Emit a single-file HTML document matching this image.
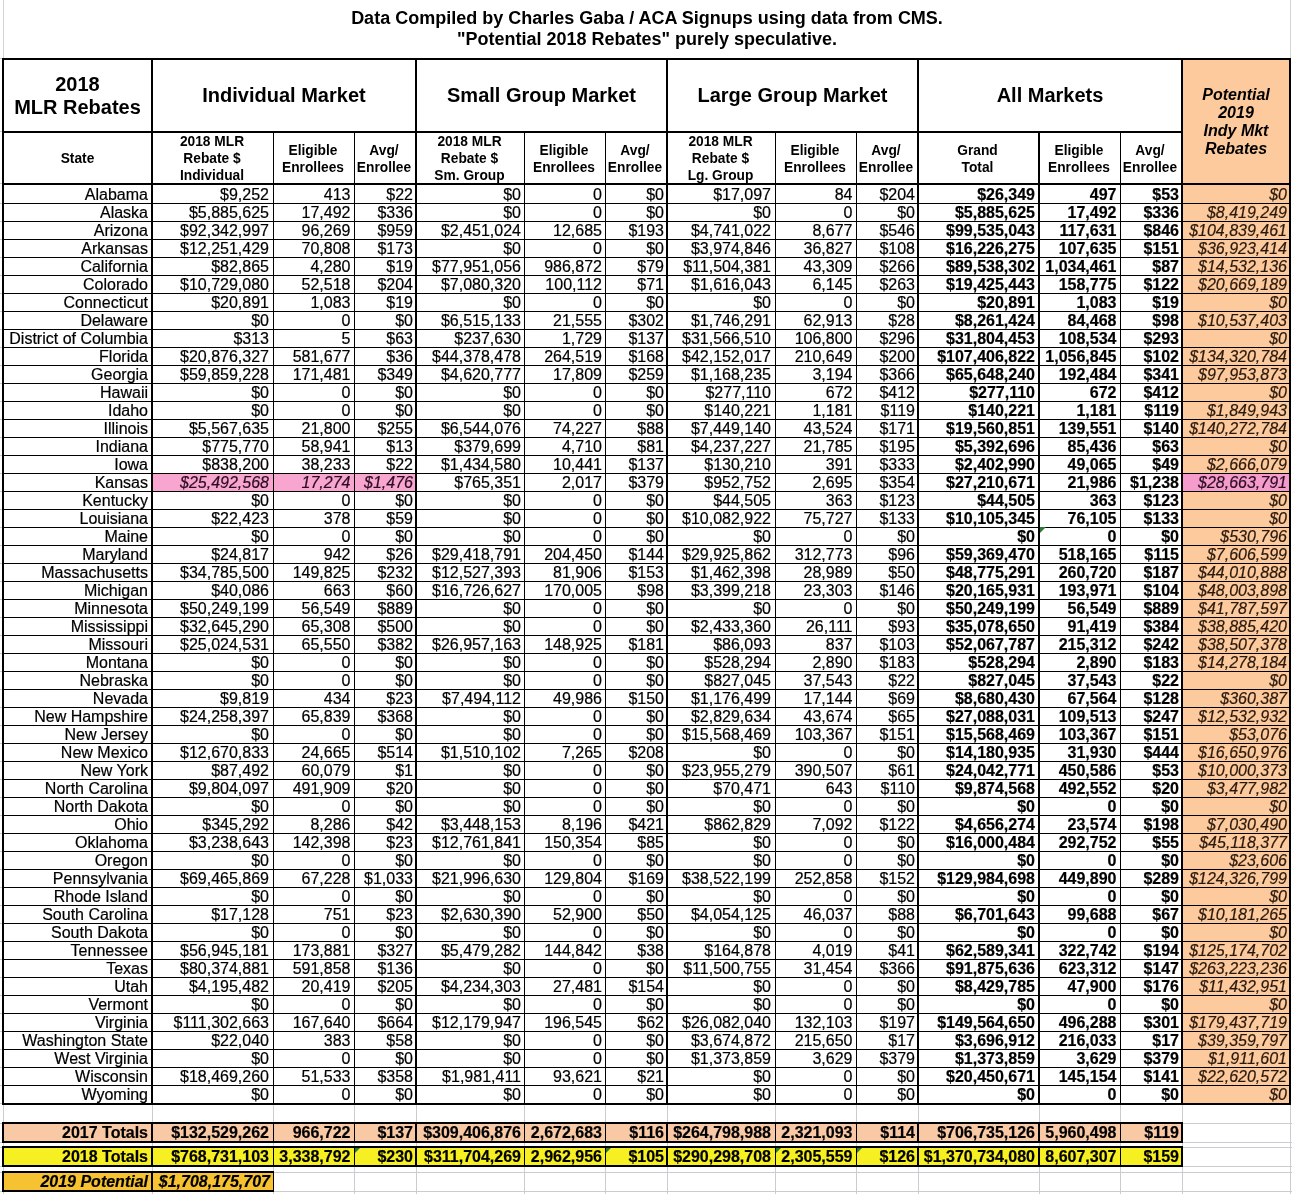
<!DOCTYPE html>
<html><head><meta charset="utf-8"><title>MLR Rebates</title>
<style>
html,body{margin:0;padding:0;background:#fff;}
body{width:1292px;height:1194px;position:relative;overflow:hidden;will-change:transform;font-family:"Liberation Sans", Arial, Helvetica, sans-serif;color:#000;}
.r{position:absolute;}
.tri{position:absolute;width:0;height:0;}
.t{position:absolute;white-space:nowrap;font-size:16px;line-height:17px;box-sizing:border-box;-webkit-text-stroke:0.2px currentColor;}
.b{font-weight:bold;}
.i{font-style:italic;}
.pc{color:#2a180b;}
.kc{color:#2b0d22;}
.title{position:absolute;text-align:center;font-weight:bold;font-size:18px;line-height:21px;}
.hc{position:absolute;display:flex;align-items:center;justify-content:center;text-align:center;font-weight:bold;}
.h1{font-size:20px;line-height:23px;}
.h2{font-size:13.75px;line-height:17px;}
.pot{position:absolute;text-align:center;font-weight:bold;font-style:italic;font-size:16px;line-height:18px;}
</style></head><body>
<div class="r" style="left:1183px;top:60px;width:106px;height:1043px;background:#fcca9c"></div>
<div class="r" style="left:153px;top:474px;width:120px;height:17px;background:#f8a5cf"></div>
<div class="r" style="left:274px;top:474px;width:80px;height:17px;background:#f8a5cf"></div>
<div class="r" style="left:355px;top:474px;width:60px;height:17px;background:#f8a5cf"></div>
<div class="r" style="left:1183px;top:474px;width:106px;height:17px;background:#f59ccc"></div>
<div class="r" style="left:3px;top:0px;width:1px;height:58px;background:#d4d4d4"></div>
<div class="r" style="left:1290px;top:0px;width:1px;height:58px;background:#d4d4d4"></div>
<div class="title" style="left:0;top:8px;width:1294px">Data Compiled by Charles Gaba / ACA Signups using data from CMS.<br>"Potential 2018 Rebates" purely speculative.</div>
<div class="r" style="left:2px;top:58px;width:1289px;height:2px;background:#000"></div>
<div class="r" style="left:2px;top:131px;width:1179px;height:2px;background:#000"></div>
<div class="r" style="left:2px;top:183px;width:1289px;height:2px;background:#000"></div>
<div class="r" style="left:2px;top:203px;width:1289px;height:1px;background:#000"></div>
<div class="r" style="left:2px;top:221px;width:1289px;height:1px;background:#000"></div>
<div class="r" style="left:2px;top:239px;width:1289px;height:1px;background:#000"></div>
<div class="r" style="left:2px;top:257px;width:1289px;height:1px;background:#000"></div>
<div class="r" style="left:2px;top:275px;width:1289px;height:1px;background:#000"></div>
<div class="r" style="left:2px;top:293px;width:1289px;height:1px;background:#000"></div>
<div class="r" style="left:2px;top:311px;width:1289px;height:1px;background:#000"></div>
<div class="r" style="left:2px;top:329px;width:1289px;height:1px;background:#000"></div>
<div class="r" style="left:2px;top:347px;width:1289px;height:1px;background:#000"></div>
<div class="r" style="left:2px;top:365px;width:1289px;height:1px;background:#000"></div>
<div class="r" style="left:2px;top:383px;width:1289px;height:1px;background:#000"></div>
<div class="r" style="left:2px;top:401px;width:1289px;height:1px;background:#000"></div>
<div class="r" style="left:2px;top:419px;width:1289px;height:1px;background:#000"></div>
<div class="r" style="left:2px;top:437px;width:1289px;height:1px;background:#000"></div>
<div class="r" style="left:2px;top:455px;width:1289px;height:1px;background:#000"></div>
<div class="r" style="left:2px;top:473px;width:1289px;height:1px;background:#000"></div>
<div class="r" style="left:2px;top:491px;width:1289px;height:1px;background:#000"></div>
<div class="r" style="left:2px;top:509px;width:1289px;height:1px;background:#000"></div>
<div class="r" style="left:2px;top:527px;width:1289px;height:1px;background:#000"></div>
<div class="r" style="left:2px;top:545px;width:1289px;height:1px;background:#000"></div>
<div class="r" style="left:2px;top:563px;width:1289px;height:1px;background:#000"></div>
<div class="r" style="left:2px;top:581px;width:1289px;height:1px;background:#000"></div>
<div class="r" style="left:2px;top:599px;width:1289px;height:1px;background:#000"></div>
<div class="r" style="left:2px;top:617px;width:1289px;height:1px;background:#000"></div>
<div class="r" style="left:2px;top:635px;width:1289px;height:1px;background:#000"></div>
<div class="r" style="left:2px;top:653px;width:1289px;height:1px;background:#000"></div>
<div class="r" style="left:2px;top:671px;width:1289px;height:1px;background:#000"></div>
<div class="r" style="left:2px;top:689px;width:1289px;height:1px;background:#000"></div>
<div class="r" style="left:2px;top:707px;width:1289px;height:1px;background:#000"></div>
<div class="r" style="left:2px;top:725px;width:1289px;height:1px;background:#000"></div>
<div class="r" style="left:2px;top:743px;width:1289px;height:1px;background:#000"></div>
<div class="r" style="left:2px;top:761px;width:1289px;height:1px;background:#000"></div>
<div class="r" style="left:2px;top:779px;width:1289px;height:1px;background:#000"></div>
<div class="r" style="left:2px;top:797px;width:1289px;height:1px;background:#000"></div>
<div class="r" style="left:2px;top:815px;width:1289px;height:1px;background:#000"></div>
<div class="r" style="left:2px;top:833px;width:1289px;height:1px;background:#000"></div>
<div class="r" style="left:2px;top:851px;width:1289px;height:1px;background:#000"></div>
<div class="r" style="left:2px;top:869px;width:1289px;height:1px;background:#000"></div>
<div class="r" style="left:2px;top:887px;width:1289px;height:1px;background:#000"></div>
<div class="r" style="left:2px;top:905px;width:1289px;height:1px;background:#000"></div>
<div class="r" style="left:2px;top:923px;width:1289px;height:1px;background:#000"></div>
<div class="r" style="left:2px;top:941px;width:1289px;height:1px;background:#000"></div>
<div class="r" style="left:2px;top:959px;width:1289px;height:1px;background:#000"></div>
<div class="r" style="left:2px;top:977px;width:1289px;height:1px;background:#000"></div>
<div class="r" style="left:2px;top:995px;width:1289px;height:1px;background:#000"></div>
<div class="r" style="left:2px;top:1013px;width:1289px;height:1px;background:#000"></div>
<div class="r" style="left:2px;top:1031px;width:1289px;height:1px;background:#000"></div>
<div class="r" style="left:2px;top:1049px;width:1289px;height:1px;background:#000"></div>
<div class="r" style="left:2px;top:1067px;width:1289px;height:1px;background:#000"></div>
<div class="r" style="left:2px;top:1085px;width:1289px;height:1px;background:#000"></div>
<div class="r" style="left:2px;top:1103px;width:1289px;height:2px;background:#000"></div>
<div class="r" style="left:2px;top:58px;width:2px;height:1047px;background:#000"></div>
<div class="r" style="left:151px;top:58px;width:2px;height:1047px;background:#000"></div>
<div class="r" style="left:273px;top:131px;width:1px;height:972px;background:#000"></div>
<div class="r" style="left:354px;top:131px;width:1px;height:972px;background:#000"></div>
<div class="r" style="left:415px;top:58px;width:2px;height:1047px;background:#000"></div>
<div class="r" style="left:524px;top:131px;width:1px;height:972px;background:#000"></div>
<div class="r" style="left:605px;top:131px;width:1px;height:972px;background:#000"></div>
<div class="r" style="left:666px;top:58px;width:2px;height:1047px;background:#000"></div>
<div class="r" style="left:775px;top:131px;width:1px;height:972px;background:#000"></div>
<div class="r" style="left:856px;top:131px;width:1px;height:972px;background:#000"></div>
<div class="r" style="left:917px;top:58px;width:2px;height:1047px;background:#000"></div>
<div class="r" style="left:1038px;top:131px;width:2px;height:972px;background:#000"></div>
<div class="r" style="left:1120px;top:131px;width:1px;height:972px;background:#000"></div>
<div class="r" style="left:1181px;top:58px;width:2px;height:1047px;background:#000"></div>
<div class="r" style="left:1289px;top:58px;width:2px;height:1047px;background:#000"></div>
<div class="hc h1" style="left:4px;top:60px;width:147px;height:71px"><div>2018<br>MLR Rebates</div></div>
<div class="hc h1" style="left:153px;top:60px;width:262px;height:71px"><div>Individual Market</div></div>
<div class="hc h1" style="left:417px;top:60px;width:249px;height:71px"><div>Small Group Market</div></div>
<div class="hc h1" style="left:668px;top:60px;width:249px;height:71px"><div>Large Group Market</div></div>
<div class="hc h1" style="left:919px;top:60px;width:262px;height:71px"><div>All Markets</div></div>
<div class="pot" style="left:1183px;top:86px;width:106px">Potential<br>2019<br>Indy Mkt<br>Rebates</div>
<div class="hc h2" style="left:4px;top:133px;width:147px;height:50px"><div>State</div></div>
<div class="hc h2" style="left:152px;top:133px;width:120px;height:50px"><div>2018 MLR<br>Rebate $<br>Individual</div></div>
<div class="hc h2" style="left:273px;top:134px;width:80px;height:50px"><div>Eligible<br>Enrollees</div></div>
<div class="hc h2" style="left:354px;top:134px;width:60px;height:50px"><div>Avg/<br>Enrollee</div></div>
<div class="hc h2" style="left:416px;top:133px;width:107px;height:50px"><div>2018 MLR<br>Rebate $<br>Sm. Group</div></div>
<div class="hc h2" style="left:524px;top:134px;width:80px;height:50px"><div>Eligible<br>Enrollees</div></div>
<div class="hc h2" style="left:605px;top:134px;width:60px;height:50px"><div>Avg/<br>Enrollee</div></div>
<div class="hc h2" style="left:667px;top:133px;width:107px;height:50px"><div>2018 MLR<br>Rebate $<br>Lg. Group</div></div>
<div class="hc h2" style="left:775px;top:134px;width:80px;height:50px"><div>Eligible<br>Enrollees</div></div>
<div class="hc h2" style="left:856px;top:134px;width:60px;height:50px"><div>Avg/<br>Enrollee</div></div>
<div class="hc h2" style="left:918px;top:134px;width:119px;height:50px"><div>Grand<br>Total</div></div>
<div class="hc h2" style="left:1039px;top:134px;width:80px;height:50px"><div>Eligible<br>Enrollees</div></div>
<div class="hc h2" style="left:1120px;top:134px;width:60px;height:50px"><div>Avg/<br>Enrollee</div></div>
<div class="t d" style="left:4px;top:186px;width:144px;height:17px;text-align:right;">Alabama</div>
<div class="t d" style="left:153px;top:186px;width:116px;height:17px;text-align:right;">$9,252</div>
<div class="t d" style="left:274px;top:186px;width:76.5px;height:17px;text-align:right;">413</div>
<div class="t d" style="left:355px;top:186px;width:58px;height:17px;text-align:right;">$22</div>
<div class="t d" style="left:417px;top:186px;width:104px;height:17px;text-align:right;">$0</div>
<div class="t d" style="left:525px;top:186px;width:77px;height:17px;text-align:right;">0</div>
<div class="t d" style="left:606px;top:186px;width:58px;height:17px;text-align:right;">$0</div>
<div class="t d" style="left:668px;top:186px;width:103px;height:17px;text-align:right;">$17,097</div>
<div class="t d" style="left:776px;top:186px;width:76.5px;height:17px;text-align:right;">84</div>
<div class="t d" style="left:857px;top:186px;width:58px;height:17px;text-align:right;">$204</div>
<div class="t d b" style="left:919px;top:186px;width:116px;height:17px;text-align:right;">$26,349</div>
<div class="t d b" style="left:1040px;top:186px;width:76.5px;height:17px;text-align:right;">497</div>
<div class="t d b" style="left:1121px;top:186px;width:58px;height:17px;text-align:right;">$53</div>
<div class="t d i pc" style="left:1183px;top:186px;width:104px;height:17px;text-align:right;">$0</div>
<div class="t d" style="left:4px;top:204px;width:144px;height:17px;text-align:right;">Alaska</div>
<div class="t d" style="left:153px;top:204px;width:116px;height:17px;text-align:right;">$5,885,625</div>
<div class="t d" style="left:274px;top:204px;width:76.5px;height:17px;text-align:right;">17,492</div>
<div class="t d" style="left:355px;top:204px;width:58px;height:17px;text-align:right;">$336</div>
<div class="t d" style="left:417px;top:204px;width:104px;height:17px;text-align:right;">$0</div>
<div class="t d" style="left:525px;top:204px;width:77px;height:17px;text-align:right;">0</div>
<div class="t d" style="left:606px;top:204px;width:58px;height:17px;text-align:right;">$0</div>
<div class="t d" style="left:668px;top:204px;width:103px;height:17px;text-align:right;">$0</div>
<div class="t d" style="left:776px;top:204px;width:76.5px;height:17px;text-align:right;">0</div>
<div class="t d" style="left:857px;top:204px;width:58px;height:17px;text-align:right;">$0</div>
<div class="t d b" style="left:919px;top:204px;width:116px;height:17px;text-align:right;">$5,885,625</div>
<div class="t d b" style="left:1040px;top:204px;width:76.5px;height:17px;text-align:right;">17,492</div>
<div class="t d b" style="left:1121px;top:204px;width:58px;height:17px;text-align:right;">$336</div>
<div class="t d i pc" style="left:1183px;top:204px;width:104px;height:17px;text-align:right;">$8,419,249</div>
<div class="t d" style="left:4px;top:222px;width:144px;height:17px;text-align:right;">Arizona</div>
<div class="t d" style="left:153px;top:222px;width:116px;height:17px;text-align:right;">$92,342,997</div>
<div class="t d" style="left:274px;top:222px;width:76.5px;height:17px;text-align:right;">96,269</div>
<div class="t d" style="left:355px;top:222px;width:58px;height:17px;text-align:right;">$959</div>
<div class="t d" style="left:417px;top:222px;width:104px;height:17px;text-align:right;">$2,451,024</div>
<div class="t d" style="left:525px;top:222px;width:77px;height:17px;text-align:right;">12,685</div>
<div class="t d" style="left:606px;top:222px;width:58px;height:17px;text-align:right;">$193</div>
<div class="t d" style="left:668px;top:222px;width:103px;height:17px;text-align:right;">$4,741,022</div>
<div class="t d" style="left:776px;top:222px;width:76.5px;height:17px;text-align:right;">8,677</div>
<div class="t d" style="left:857px;top:222px;width:58px;height:17px;text-align:right;">$546</div>
<div class="t d b" style="left:919px;top:222px;width:116px;height:17px;text-align:right;">$99,535,043</div>
<div class="t d b" style="left:1040px;top:222px;width:76.5px;height:17px;text-align:right;">117,631</div>
<div class="t d b" style="left:1121px;top:222px;width:58px;height:17px;text-align:right;">$846</div>
<div class="t d i pc" style="left:1183px;top:222px;width:104px;height:17px;text-align:right;">$104,839,461</div>
<div class="t d" style="left:4px;top:240px;width:144px;height:17px;text-align:right;">Arkansas</div>
<div class="t d" style="left:153px;top:240px;width:116px;height:17px;text-align:right;">$12,251,429</div>
<div class="t d" style="left:274px;top:240px;width:76.5px;height:17px;text-align:right;">70,808</div>
<div class="t d" style="left:355px;top:240px;width:58px;height:17px;text-align:right;">$173</div>
<div class="t d" style="left:417px;top:240px;width:104px;height:17px;text-align:right;">$0</div>
<div class="t d" style="left:525px;top:240px;width:77px;height:17px;text-align:right;">0</div>
<div class="t d" style="left:606px;top:240px;width:58px;height:17px;text-align:right;">$0</div>
<div class="t d" style="left:668px;top:240px;width:103px;height:17px;text-align:right;">$3,974,846</div>
<div class="t d" style="left:776px;top:240px;width:76.5px;height:17px;text-align:right;">36,827</div>
<div class="t d" style="left:857px;top:240px;width:58px;height:17px;text-align:right;">$108</div>
<div class="t d b" style="left:919px;top:240px;width:116px;height:17px;text-align:right;">$16,226,275</div>
<div class="t d b" style="left:1040px;top:240px;width:76.5px;height:17px;text-align:right;">107,635</div>
<div class="t d b" style="left:1121px;top:240px;width:58px;height:17px;text-align:right;">$151</div>
<div class="t d i pc" style="left:1183px;top:240px;width:104px;height:17px;text-align:right;">$36,923,414</div>
<div class="t d" style="left:4px;top:258px;width:144px;height:17px;text-align:right;">California</div>
<div class="t d" style="left:153px;top:258px;width:116px;height:17px;text-align:right;">$82,865</div>
<div class="t d" style="left:274px;top:258px;width:76.5px;height:17px;text-align:right;">4,280</div>
<div class="t d" style="left:355px;top:258px;width:58px;height:17px;text-align:right;">$19</div>
<div class="t d" style="left:417px;top:258px;width:104px;height:17px;text-align:right;">$77,951,056</div>
<div class="t d" style="left:525px;top:258px;width:77px;height:17px;text-align:right;">986,872</div>
<div class="t d" style="left:606px;top:258px;width:58px;height:17px;text-align:right;">$79</div>
<div class="t d" style="left:668px;top:258px;width:103px;height:17px;text-align:right;">$11,504,381</div>
<div class="t d" style="left:776px;top:258px;width:76.5px;height:17px;text-align:right;">43,309</div>
<div class="t d" style="left:857px;top:258px;width:58px;height:17px;text-align:right;">$266</div>
<div class="t d b" style="left:919px;top:258px;width:116px;height:17px;text-align:right;">$89,538,302</div>
<div class="t d b" style="left:1040px;top:258px;width:76.5px;height:17px;text-align:right;">1,034,461</div>
<div class="t d b" style="left:1121px;top:258px;width:58px;height:17px;text-align:right;">$87</div>
<div class="t d i pc" style="left:1183px;top:258px;width:104px;height:17px;text-align:right;">$14,532,136</div>
<div class="t d" style="left:4px;top:276px;width:144px;height:17px;text-align:right;">Colorado</div>
<div class="t d" style="left:153px;top:276px;width:116px;height:17px;text-align:right;">$10,729,080</div>
<div class="t d" style="left:274px;top:276px;width:76.5px;height:17px;text-align:right;">52,518</div>
<div class="t d" style="left:355px;top:276px;width:58px;height:17px;text-align:right;">$204</div>
<div class="t d" style="left:417px;top:276px;width:104px;height:17px;text-align:right;">$7,080,320</div>
<div class="t d" style="left:525px;top:276px;width:77px;height:17px;text-align:right;">100,112</div>
<div class="t d" style="left:606px;top:276px;width:58px;height:17px;text-align:right;">$71</div>
<div class="t d" style="left:668px;top:276px;width:103px;height:17px;text-align:right;">$1,616,043</div>
<div class="t d" style="left:776px;top:276px;width:76.5px;height:17px;text-align:right;">6,145</div>
<div class="t d" style="left:857px;top:276px;width:58px;height:17px;text-align:right;">$263</div>
<div class="t d b" style="left:919px;top:276px;width:116px;height:17px;text-align:right;">$19,425,443</div>
<div class="t d b" style="left:1040px;top:276px;width:76.5px;height:17px;text-align:right;">158,775</div>
<div class="t d b" style="left:1121px;top:276px;width:58px;height:17px;text-align:right;">$122</div>
<div class="t d i pc" style="left:1183px;top:276px;width:104px;height:17px;text-align:right;">$20,669,189</div>
<div class="t d" style="left:4px;top:294px;width:144px;height:17px;text-align:right;">Connecticut</div>
<div class="t d" style="left:153px;top:294px;width:116px;height:17px;text-align:right;">$20,891</div>
<div class="t d" style="left:274px;top:294px;width:76.5px;height:17px;text-align:right;">1,083</div>
<div class="t d" style="left:355px;top:294px;width:58px;height:17px;text-align:right;">$19</div>
<div class="t d" style="left:417px;top:294px;width:104px;height:17px;text-align:right;">$0</div>
<div class="t d" style="left:525px;top:294px;width:77px;height:17px;text-align:right;">0</div>
<div class="t d" style="left:606px;top:294px;width:58px;height:17px;text-align:right;">$0</div>
<div class="t d" style="left:668px;top:294px;width:103px;height:17px;text-align:right;">$0</div>
<div class="t d" style="left:776px;top:294px;width:76.5px;height:17px;text-align:right;">0</div>
<div class="t d" style="left:857px;top:294px;width:58px;height:17px;text-align:right;">$0</div>
<div class="t d b" style="left:919px;top:294px;width:116px;height:17px;text-align:right;">$20,891</div>
<div class="t d b" style="left:1040px;top:294px;width:76.5px;height:17px;text-align:right;">1,083</div>
<div class="t d b" style="left:1121px;top:294px;width:58px;height:17px;text-align:right;">$19</div>
<div class="t d i pc" style="left:1183px;top:294px;width:104px;height:17px;text-align:right;">$0</div>
<div class="t d" style="left:4px;top:312px;width:144px;height:17px;text-align:right;">Delaware</div>
<div class="t d" style="left:153px;top:312px;width:116px;height:17px;text-align:right;">$0</div>
<div class="t d" style="left:274px;top:312px;width:76.5px;height:17px;text-align:right;">0</div>
<div class="t d" style="left:355px;top:312px;width:58px;height:17px;text-align:right;">$0</div>
<div class="t d" style="left:417px;top:312px;width:104px;height:17px;text-align:right;">$6,515,133</div>
<div class="t d" style="left:525px;top:312px;width:77px;height:17px;text-align:right;">21,555</div>
<div class="t d" style="left:606px;top:312px;width:58px;height:17px;text-align:right;">$302</div>
<div class="t d" style="left:668px;top:312px;width:103px;height:17px;text-align:right;">$1,746,291</div>
<div class="t d" style="left:776px;top:312px;width:76.5px;height:17px;text-align:right;">62,913</div>
<div class="t d" style="left:857px;top:312px;width:58px;height:17px;text-align:right;">$28</div>
<div class="t d b" style="left:919px;top:312px;width:116px;height:17px;text-align:right;">$8,261,424</div>
<div class="t d b" style="left:1040px;top:312px;width:76.5px;height:17px;text-align:right;">84,468</div>
<div class="t d b" style="left:1121px;top:312px;width:58px;height:17px;text-align:right;">$98</div>
<div class="t d i pc" style="left:1183px;top:312px;width:104px;height:17px;text-align:right;">$10,537,403</div>
<div class="t d" style="left:4px;top:330px;width:144px;height:17px;text-align:right;">District of Columbia</div>
<div class="t d" style="left:153px;top:330px;width:116px;height:17px;text-align:right;">$313</div>
<div class="t d" style="left:274px;top:330px;width:76.5px;height:17px;text-align:right;">5</div>
<div class="t d" style="left:355px;top:330px;width:58px;height:17px;text-align:right;">$63</div>
<div class="t d" style="left:417px;top:330px;width:104px;height:17px;text-align:right;">$237,630</div>
<div class="t d" style="left:525px;top:330px;width:77px;height:17px;text-align:right;">1,729</div>
<div class="t d" style="left:606px;top:330px;width:58px;height:17px;text-align:right;">$137</div>
<div class="t d" style="left:668px;top:330px;width:103px;height:17px;text-align:right;">$31,566,510</div>
<div class="t d" style="left:776px;top:330px;width:76.5px;height:17px;text-align:right;">106,800</div>
<div class="t d" style="left:857px;top:330px;width:58px;height:17px;text-align:right;">$296</div>
<div class="t d b" style="left:919px;top:330px;width:116px;height:17px;text-align:right;">$31,804,453</div>
<div class="t d b" style="left:1040px;top:330px;width:76.5px;height:17px;text-align:right;">108,534</div>
<div class="t d b" style="left:1121px;top:330px;width:58px;height:17px;text-align:right;">$293</div>
<div class="t d i pc" style="left:1183px;top:330px;width:104px;height:17px;text-align:right;">$0</div>
<div class="t d" style="left:4px;top:348px;width:144px;height:17px;text-align:right;">Florida</div>
<div class="t d" style="left:153px;top:348px;width:116px;height:17px;text-align:right;">$20,876,327</div>
<div class="t d" style="left:274px;top:348px;width:76.5px;height:17px;text-align:right;">581,677</div>
<div class="t d" style="left:355px;top:348px;width:58px;height:17px;text-align:right;">$36</div>
<div class="t d" style="left:417px;top:348px;width:104px;height:17px;text-align:right;">$44,378,478</div>
<div class="t d" style="left:525px;top:348px;width:77px;height:17px;text-align:right;">264,519</div>
<div class="t d" style="left:606px;top:348px;width:58px;height:17px;text-align:right;">$168</div>
<div class="t d" style="left:668px;top:348px;width:103px;height:17px;text-align:right;">$42,152,017</div>
<div class="t d" style="left:776px;top:348px;width:76.5px;height:17px;text-align:right;">210,649</div>
<div class="t d" style="left:857px;top:348px;width:58px;height:17px;text-align:right;">$200</div>
<div class="t d b" style="left:919px;top:348px;width:116px;height:17px;text-align:right;">$107,406,822</div>
<div class="t d b" style="left:1040px;top:348px;width:76.5px;height:17px;text-align:right;">1,056,845</div>
<div class="t d b" style="left:1121px;top:348px;width:58px;height:17px;text-align:right;">$102</div>
<div class="t d i pc" style="left:1183px;top:348px;width:104px;height:17px;text-align:right;">$134,320,784</div>
<div class="t d" style="left:4px;top:366px;width:144px;height:17px;text-align:right;">Georgia</div>
<div class="t d" style="left:153px;top:366px;width:116px;height:17px;text-align:right;">$59,859,228</div>
<div class="t d" style="left:274px;top:366px;width:76.5px;height:17px;text-align:right;">171,481</div>
<div class="t d" style="left:355px;top:366px;width:58px;height:17px;text-align:right;">$349</div>
<div class="t d" style="left:417px;top:366px;width:104px;height:17px;text-align:right;">$4,620,777</div>
<div class="t d" style="left:525px;top:366px;width:77px;height:17px;text-align:right;">17,809</div>
<div class="t d" style="left:606px;top:366px;width:58px;height:17px;text-align:right;">$259</div>
<div class="t d" style="left:668px;top:366px;width:103px;height:17px;text-align:right;">$1,168,235</div>
<div class="t d" style="left:776px;top:366px;width:76.5px;height:17px;text-align:right;">3,194</div>
<div class="t d" style="left:857px;top:366px;width:58px;height:17px;text-align:right;">$366</div>
<div class="t d b" style="left:919px;top:366px;width:116px;height:17px;text-align:right;">$65,648,240</div>
<div class="t d b" style="left:1040px;top:366px;width:76.5px;height:17px;text-align:right;">192,484</div>
<div class="t d b" style="left:1121px;top:366px;width:58px;height:17px;text-align:right;">$341</div>
<div class="t d i pc" style="left:1183px;top:366px;width:104px;height:17px;text-align:right;">$97,953,873</div>
<div class="t d" style="left:4px;top:384px;width:144px;height:17px;text-align:right;">Hawaii</div>
<div class="t d" style="left:153px;top:384px;width:116px;height:17px;text-align:right;">$0</div>
<div class="t d" style="left:274px;top:384px;width:76.5px;height:17px;text-align:right;">0</div>
<div class="t d" style="left:355px;top:384px;width:58px;height:17px;text-align:right;">$0</div>
<div class="t d" style="left:417px;top:384px;width:104px;height:17px;text-align:right;">$0</div>
<div class="t d" style="left:525px;top:384px;width:77px;height:17px;text-align:right;">0</div>
<div class="t d" style="left:606px;top:384px;width:58px;height:17px;text-align:right;">$0</div>
<div class="t d" style="left:668px;top:384px;width:103px;height:17px;text-align:right;">$277,110</div>
<div class="t d" style="left:776px;top:384px;width:76.5px;height:17px;text-align:right;">672</div>
<div class="t d" style="left:857px;top:384px;width:58px;height:17px;text-align:right;">$412</div>
<div class="t d b" style="left:919px;top:384px;width:116px;height:17px;text-align:right;">$277,110</div>
<div class="t d b" style="left:1040px;top:384px;width:76.5px;height:17px;text-align:right;">672</div>
<div class="t d b" style="left:1121px;top:384px;width:58px;height:17px;text-align:right;">$412</div>
<div class="t d i pc" style="left:1183px;top:384px;width:104px;height:17px;text-align:right;">$0</div>
<div class="t d" style="left:4px;top:402px;width:144px;height:17px;text-align:right;">Idaho</div>
<div class="t d" style="left:153px;top:402px;width:116px;height:17px;text-align:right;">$0</div>
<div class="t d" style="left:274px;top:402px;width:76.5px;height:17px;text-align:right;">0</div>
<div class="t d" style="left:355px;top:402px;width:58px;height:17px;text-align:right;">$0</div>
<div class="t d" style="left:417px;top:402px;width:104px;height:17px;text-align:right;">$0</div>
<div class="t d" style="left:525px;top:402px;width:77px;height:17px;text-align:right;">0</div>
<div class="t d" style="left:606px;top:402px;width:58px;height:17px;text-align:right;">$0</div>
<div class="t d" style="left:668px;top:402px;width:103px;height:17px;text-align:right;">$140,221</div>
<div class="t d" style="left:776px;top:402px;width:76.5px;height:17px;text-align:right;">1,181</div>
<div class="t d" style="left:857px;top:402px;width:58px;height:17px;text-align:right;">$119</div>
<div class="t d b" style="left:919px;top:402px;width:116px;height:17px;text-align:right;">$140,221</div>
<div class="t d b" style="left:1040px;top:402px;width:76.5px;height:17px;text-align:right;">1,181</div>
<div class="t d b" style="left:1121px;top:402px;width:58px;height:17px;text-align:right;">$119</div>
<div class="t d i pc" style="left:1183px;top:402px;width:104px;height:17px;text-align:right;">$1,849,943</div>
<div class="t d" style="left:4px;top:420px;width:144px;height:17px;text-align:right;">Illinois</div>
<div class="t d" style="left:153px;top:420px;width:116px;height:17px;text-align:right;">$5,567,635</div>
<div class="t d" style="left:274px;top:420px;width:76.5px;height:17px;text-align:right;">21,800</div>
<div class="t d" style="left:355px;top:420px;width:58px;height:17px;text-align:right;">$255</div>
<div class="t d" style="left:417px;top:420px;width:104px;height:17px;text-align:right;">$6,544,076</div>
<div class="t d" style="left:525px;top:420px;width:77px;height:17px;text-align:right;">74,227</div>
<div class="t d" style="left:606px;top:420px;width:58px;height:17px;text-align:right;">$88</div>
<div class="t d" style="left:668px;top:420px;width:103px;height:17px;text-align:right;">$7,449,140</div>
<div class="t d" style="left:776px;top:420px;width:76.5px;height:17px;text-align:right;">43,524</div>
<div class="t d" style="left:857px;top:420px;width:58px;height:17px;text-align:right;">$171</div>
<div class="t d b" style="left:919px;top:420px;width:116px;height:17px;text-align:right;">$19,560,851</div>
<div class="t d b" style="left:1040px;top:420px;width:76.5px;height:17px;text-align:right;">139,551</div>
<div class="t d b" style="left:1121px;top:420px;width:58px;height:17px;text-align:right;">$140</div>
<div class="t d i pc" style="left:1183px;top:420px;width:104px;height:17px;text-align:right;">$140,272,784</div>
<div class="t d" style="left:4px;top:438px;width:144px;height:17px;text-align:right;">Indiana</div>
<div class="t d" style="left:153px;top:438px;width:116px;height:17px;text-align:right;">$775,770</div>
<div class="t d" style="left:274px;top:438px;width:76.5px;height:17px;text-align:right;">58,941</div>
<div class="t d" style="left:355px;top:438px;width:58px;height:17px;text-align:right;">$13</div>
<div class="t d" style="left:417px;top:438px;width:104px;height:17px;text-align:right;">$379,699</div>
<div class="t d" style="left:525px;top:438px;width:77px;height:17px;text-align:right;">4,710</div>
<div class="t d" style="left:606px;top:438px;width:58px;height:17px;text-align:right;">$81</div>
<div class="t d" style="left:668px;top:438px;width:103px;height:17px;text-align:right;">$4,237,227</div>
<div class="t d" style="left:776px;top:438px;width:76.5px;height:17px;text-align:right;">21,785</div>
<div class="t d" style="left:857px;top:438px;width:58px;height:17px;text-align:right;">$195</div>
<div class="t d b" style="left:919px;top:438px;width:116px;height:17px;text-align:right;">$5,392,696</div>
<div class="t d b" style="left:1040px;top:438px;width:76.5px;height:17px;text-align:right;">85,436</div>
<div class="t d b" style="left:1121px;top:438px;width:58px;height:17px;text-align:right;">$63</div>
<div class="t d i pc" style="left:1183px;top:438px;width:104px;height:17px;text-align:right;">$0</div>
<div class="t d" style="left:4px;top:456px;width:144px;height:17px;text-align:right;">Iowa</div>
<div class="t d" style="left:153px;top:456px;width:116px;height:17px;text-align:right;">$838,200</div>
<div class="t d" style="left:274px;top:456px;width:76.5px;height:17px;text-align:right;">38,233</div>
<div class="t d" style="left:355px;top:456px;width:58px;height:17px;text-align:right;">$22</div>
<div class="t d" style="left:417px;top:456px;width:104px;height:17px;text-align:right;">$1,434,580</div>
<div class="t d" style="left:525px;top:456px;width:77px;height:17px;text-align:right;">10,441</div>
<div class="t d" style="left:606px;top:456px;width:58px;height:17px;text-align:right;">$137</div>
<div class="t d" style="left:668px;top:456px;width:103px;height:17px;text-align:right;">$130,210</div>
<div class="t d" style="left:776px;top:456px;width:76.5px;height:17px;text-align:right;">391</div>
<div class="t d" style="left:857px;top:456px;width:58px;height:17px;text-align:right;">$333</div>
<div class="t d b" style="left:919px;top:456px;width:116px;height:17px;text-align:right;">$2,402,990</div>
<div class="t d b" style="left:1040px;top:456px;width:76.5px;height:17px;text-align:right;">49,065</div>
<div class="t d b" style="left:1121px;top:456px;width:58px;height:17px;text-align:right;">$49</div>
<div class="t d i pc" style="left:1183px;top:456px;width:104px;height:17px;text-align:right;">$2,666,079</div>
<div class="t d" style="left:4px;top:474px;width:144px;height:17px;text-align:right;">Kansas</div>
<div class="t d i kc" style="left:153px;top:474px;width:116px;height:17px;text-align:right;">$25,492,568</div>
<div class="t d i kc" style="left:274px;top:474px;width:76.5px;height:17px;text-align:right;">17,274</div>
<div class="t d i kc" style="left:355px;top:474px;width:58px;height:17px;text-align:right;">$1,476</div>
<div class="t d" style="left:417px;top:474px;width:104px;height:17px;text-align:right;">$765,351</div>
<div class="t d" style="left:525px;top:474px;width:77px;height:17px;text-align:right;">2,017</div>
<div class="t d" style="left:606px;top:474px;width:58px;height:17px;text-align:right;">$379</div>
<div class="t d" style="left:668px;top:474px;width:103px;height:17px;text-align:right;">$952,752</div>
<div class="t d" style="left:776px;top:474px;width:76.5px;height:17px;text-align:right;">2,695</div>
<div class="t d" style="left:857px;top:474px;width:58px;height:17px;text-align:right;">$354</div>
<div class="t d b" style="left:919px;top:474px;width:116px;height:17px;text-align:right;">$27,210,671</div>
<div class="t d b" style="left:1040px;top:474px;width:76.5px;height:17px;text-align:right;">21,986</div>
<div class="t d b" style="left:1121px;top:474px;width:58px;height:17px;text-align:right;">$1,238</div>
<div class="t d i kc" style="left:1183px;top:474px;width:104px;height:17px;text-align:right;">$28,663,791</div>
<div class="t d" style="left:4px;top:492px;width:144px;height:17px;text-align:right;">Kentucky</div>
<div class="t d" style="left:153px;top:492px;width:116px;height:17px;text-align:right;">$0</div>
<div class="t d" style="left:274px;top:492px;width:76.5px;height:17px;text-align:right;">0</div>
<div class="t d" style="left:355px;top:492px;width:58px;height:17px;text-align:right;">$0</div>
<div class="t d" style="left:417px;top:492px;width:104px;height:17px;text-align:right;">$0</div>
<div class="t d" style="left:525px;top:492px;width:77px;height:17px;text-align:right;">0</div>
<div class="t d" style="left:606px;top:492px;width:58px;height:17px;text-align:right;">$0</div>
<div class="t d" style="left:668px;top:492px;width:103px;height:17px;text-align:right;">$44,505</div>
<div class="t d" style="left:776px;top:492px;width:76.5px;height:17px;text-align:right;">363</div>
<div class="t d" style="left:857px;top:492px;width:58px;height:17px;text-align:right;">$123</div>
<div class="t d b" style="left:919px;top:492px;width:116px;height:17px;text-align:right;">$44,505</div>
<div class="t d b" style="left:1040px;top:492px;width:76.5px;height:17px;text-align:right;">363</div>
<div class="t d b" style="left:1121px;top:492px;width:58px;height:17px;text-align:right;">$123</div>
<div class="t d i pc" style="left:1183px;top:492px;width:104px;height:17px;text-align:right;">$0</div>
<div class="t d" style="left:4px;top:510px;width:144px;height:17px;text-align:right;">Louisiana</div>
<div class="t d" style="left:153px;top:510px;width:116px;height:17px;text-align:right;">$22,423</div>
<div class="t d" style="left:274px;top:510px;width:76.5px;height:17px;text-align:right;">378</div>
<div class="t d" style="left:355px;top:510px;width:58px;height:17px;text-align:right;">$59</div>
<div class="t d" style="left:417px;top:510px;width:104px;height:17px;text-align:right;">$0</div>
<div class="t d" style="left:525px;top:510px;width:77px;height:17px;text-align:right;">0</div>
<div class="t d" style="left:606px;top:510px;width:58px;height:17px;text-align:right;">$0</div>
<div class="t d" style="left:668px;top:510px;width:103px;height:17px;text-align:right;">$10,082,922</div>
<div class="t d" style="left:776px;top:510px;width:76.5px;height:17px;text-align:right;">75,727</div>
<div class="t d" style="left:857px;top:510px;width:58px;height:17px;text-align:right;">$133</div>
<div class="t d b" style="left:919px;top:510px;width:116px;height:17px;text-align:right;">$10,105,345</div>
<div class="t d b" style="left:1040px;top:510px;width:76.5px;height:17px;text-align:right;">76,105</div>
<div class="t d b" style="left:1121px;top:510px;width:58px;height:17px;text-align:right;">$133</div>
<div class="t d i pc" style="left:1183px;top:510px;width:104px;height:17px;text-align:right;">$0</div>
<div class="t d" style="left:4px;top:528px;width:144px;height:17px;text-align:right;">Maine</div>
<div class="t d" style="left:153px;top:528px;width:116px;height:17px;text-align:right;">$0</div>
<div class="t d" style="left:274px;top:528px;width:76.5px;height:17px;text-align:right;">0</div>
<div class="t d" style="left:355px;top:528px;width:58px;height:17px;text-align:right;">$0</div>
<div class="t d" style="left:417px;top:528px;width:104px;height:17px;text-align:right;">$0</div>
<div class="t d" style="left:525px;top:528px;width:77px;height:17px;text-align:right;">0</div>
<div class="t d" style="left:606px;top:528px;width:58px;height:17px;text-align:right;">$0</div>
<div class="t d" style="left:668px;top:528px;width:103px;height:17px;text-align:right;">$0</div>
<div class="t d" style="left:776px;top:528px;width:76.5px;height:17px;text-align:right;">0</div>
<div class="t d" style="left:857px;top:528px;width:58px;height:17px;text-align:right;">$0</div>
<div class="t d b" style="left:919px;top:528px;width:116px;height:17px;text-align:right;">$0</div>
<div class="t d b" style="left:1040px;top:528px;width:76.5px;height:17px;text-align:right;">0</div>
<div class="t d b" style="left:1121px;top:528px;width:58px;height:17px;text-align:right;">$0</div>
<div class="t d i pc" style="left:1183px;top:528px;width:104px;height:17px;text-align:right;">$530,796</div>
<div class="t d" style="left:4px;top:546px;width:144px;height:17px;text-align:right;">Maryland</div>
<div class="t d" style="left:153px;top:546px;width:116px;height:17px;text-align:right;">$24,817</div>
<div class="t d" style="left:274px;top:546px;width:76.5px;height:17px;text-align:right;">942</div>
<div class="t d" style="left:355px;top:546px;width:58px;height:17px;text-align:right;">$26</div>
<div class="t d" style="left:417px;top:546px;width:104px;height:17px;text-align:right;">$29,418,791</div>
<div class="t d" style="left:525px;top:546px;width:77px;height:17px;text-align:right;">204,450</div>
<div class="t d" style="left:606px;top:546px;width:58px;height:17px;text-align:right;">$144</div>
<div class="t d" style="left:668px;top:546px;width:103px;height:17px;text-align:right;">$29,925,862</div>
<div class="t d" style="left:776px;top:546px;width:76.5px;height:17px;text-align:right;">312,773</div>
<div class="t d" style="left:857px;top:546px;width:58px;height:17px;text-align:right;">$96</div>
<div class="t d b" style="left:919px;top:546px;width:116px;height:17px;text-align:right;">$59,369,470</div>
<div class="t d b" style="left:1040px;top:546px;width:76.5px;height:17px;text-align:right;">518,165</div>
<div class="t d b" style="left:1121px;top:546px;width:58px;height:17px;text-align:right;">$115</div>
<div class="t d i pc" style="left:1183px;top:546px;width:104px;height:17px;text-align:right;">$7,606,599</div>
<div class="t d" style="left:4px;top:564px;width:144px;height:17px;text-align:right;">Massachusetts</div>
<div class="t d" style="left:153px;top:564px;width:116px;height:17px;text-align:right;">$34,785,500</div>
<div class="t d" style="left:274px;top:564px;width:76.5px;height:17px;text-align:right;">149,825</div>
<div class="t d" style="left:355px;top:564px;width:58px;height:17px;text-align:right;">$232</div>
<div class="t d" style="left:417px;top:564px;width:104px;height:17px;text-align:right;">$12,527,393</div>
<div class="t d" style="left:525px;top:564px;width:77px;height:17px;text-align:right;">81,906</div>
<div class="t d" style="left:606px;top:564px;width:58px;height:17px;text-align:right;">$153</div>
<div class="t d" style="left:668px;top:564px;width:103px;height:17px;text-align:right;">$1,462,398</div>
<div class="t d" style="left:776px;top:564px;width:76.5px;height:17px;text-align:right;">28,989</div>
<div class="t d" style="left:857px;top:564px;width:58px;height:17px;text-align:right;">$50</div>
<div class="t d b" style="left:919px;top:564px;width:116px;height:17px;text-align:right;">$48,775,291</div>
<div class="t d b" style="left:1040px;top:564px;width:76.5px;height:17px;text-align:right;">260,720</div>
<div class="t d b" style="left:1121px;top:564px;width:58px;height:17px;text-align:right;">$187</div>
<div class="t d i pc" style="left:1183px;top:564px;width:104px;height:17px;text-align:right;">$44,010,888</div>
<div class="t d" style="left:4px;top:582px;width:144px;height:17px;text-align:right;">Michigan</div>
<div class="t d" style="left:153px;top:582px;width:116px;height:17px;text-align:right;">$40,086</div>
<div class="t d" style="left:274px;top:582px;width:76.5px;height:17px;text-align:right;">663</div>
<div class="t d" style="left:355px;top:582px;width:58px;height:17px;text-align:right;">$60</div>
<div class="t d" style="left:417px;top:582px;width:104px;height:17px;text-align:right;">$16,726,627</div>
<div class="t d" style="left:525px;top:582px;width:77px;height:17px;text-align:right;">170,005</div>
<div class="t d" style="left:606px;top:582px;width:58px;height:17px;text-align:right;">$98</div>
<div class="t d" style="left:668px;top:582px;width:103px;height:17px;text-align:right;">$3,399,218</div>
<div class="t d" style="left:776px;top:582px;width:76.5px;height:17px;text-align:right;">23,303</div>
<div class="t d" style="left:857px;top:582px;width:58px;height:17px;text-align:right;">$146</div>
<div class="t d b" style="left:919px;top:582px;width:116px;height:17px;text-align:right;">$20,165,931</div>
<div class="t d b" style="left:1040px;top:582px;width:76.5px;height:17px;text-align:right;">193,971</div>
<div class="t d b" style="left:1121px;top:582px;width:58px;height:17px;text-align:right;">$104</div>
<div class="t d i pc" style="left:1183px;top:582px;width:104px;height:17px;text-align:right;">$48,003,898</div>
<div class="t d" style="left:4px;top:600px;width:144px;height:17px;text-align:right;">Minnesota</div>
<div class="t d" style="left:153px;top:600px;width:116px;height:17px;text-align:right;">$50,249,199</div>
<div class="t d" style="left:274px;top:600px;width:76.5px;height:17px;text-align:right;">56,549</div>
<div class="t d" style="left:355px;top:600px;width:58px;height:17px;text-align:right;">$889</div>
<div class="t d" style="left:417px;top:600px;width:104px;height:17px;text-align:right;">$0</div>
<div class="t d" style="left:525px;top:600px;width:77px;height:17px;text-align:right;">0</div>
<div class="t d" style="left:606px;top:600px;width:58px;height:17px;text-align:right;">$0</div>
<div class="t d" style="left:668px;top:600px;width:103px;height:17px;text-align:right;">$0</div>
<div class="t d" style="left:776px;top:600px;width:76.5px;height:17px;text-align:right;">0</div>
<div class="t d" style="left:857px;top:600px;width:58px;height:17px;text-align:right;">$0</div>
<div class="t d b" style="left:919px;top:600px;width:116px;height:17px;text-align:right;">$50,249,199</div>
<div class="t d b" style="left:1040px;top:600px;width:76.5px;height:17px;text-align:right;">56,549</div>
<div class="t d b" style="left:1121px;top:600px;width:58px;height:17px;text-align:right;">$889</div>
<div class="t d i pc" style="left:1183px;top:600px;width:104px;height:17px;text-align:right;">$41,787,597</div>
<div class="t d" style="left:4px;top:618px;width:144px;height:17px;text-align:right;">Mississippi</div>
<div class="t d" style="left:153px;top:618px;width:116px;height:17px;text-align:right;">$32,645,290</div>
<div class="t d" style="left:274px;top:618px;width:76.5px;height:17px;text-align:right;">65,308</div>
<div class="t d" style="left:355px;top:618px;width:58px;height:17px;text-align:right;">$500</div>
<div class="t d" style="left:417px;top:618px;width:104px;height:17px;text-align:right;">$0</div>
<div class="t d" style="left:525px;top:618px;width:77px;height:17px;text-align:right;">0</div>
<div class="t d" style="left:606px;top:618px;width:58px;height:17px;text-align:right;">$0</div>
<div class="t d" style="left:668px;top:618px;width:103px;height:17px;text-align:right;">$2,433,360</div>
<div class="t d" style="left:776px;top:618px;width:76.5px;height:17px;text-align:right;">26,111</div>
<div class="t d" style="left:857px;top:618px;width:58px;height:17px;text-align:right;">$93</div>
<div class="t d b" style="left:919px;top:618px;width:116px;height:17px;text-align:right;">$35,078,650</div>
<div class="t d b" style="left:1040px;top:618px;width:76.5px;height:17px;text-align:right;">91,419</div>
<div class="t d b" style="left:1121px;top:618px;width:58px;height:17px;text-align:right;">$384</div>
<div class="t d i pc" style="left:1183px;top:618px;width:104px;height:17px;text-align:right;">$38,885,420</div>
<div class="t d" style="left:4px;top:636px;width:144px;height:17px;text-align:right;">Missouri</div>
<div class="t d" style="left:153px;top:636px;width:116px;height:17px;text-align:right;">$25,024,531</div>
<div class="t d" style="left:274px;top:636px;width:76.5px;height:17px;text-align:right;">65,550</div>
<div class="t d" style="left:355px;top:636px;width:58px;height:17px;text-align:right;">$382</div>
<div class="t d" style="left:417px;top:636px;width:104px;height:17px;text-align:right;">$26,957,163</div>
<div class="t d" style="left:525px;top:636px;width:77px;height:17px;text-align:right;">148,925</div>
<div class="t d" style="left:606px;top:636px;width:58px;height:17px;text-align:right;">$181</div>
<div class="t d" style="left:668px;top:636px;width:103px;height:17px;text-align:right;">$86,093</div>
<div class="t d" style="left:776px;top:636px;width:76.5px;height:17px;text-align:right;">837</div>
<div class="t d" style="left:857px;top:636px;width:58px;height:17px;text-align:right;">$103</div>
<div class="t d b" style="left:919px;top:636px;width:116px;height:17px;text-align:right;">$52,067,787</div>
<div class="t d b" style="left:1040px;top:636px;width:76.5px;height:17px;text-align:right;">215,312</div>
<div class="t d b" style="left:1121px;top:636px;width:58px;height:17px;text-align:right;">$242</div>
<div class="t d i pc" style="left:1183px;top:636px;width:104px;height:17px;text-align:right;">$38,507,378</div>
<div class="t d" style="left:4px;top:654px;width:144px;height:17px;text-align:right;">Montana</div>
<div class="t d" style="left:153px;top:654px;width:116px;height:17px;text-align:right;">$0</div>
<div class="t d" style="left:274px;top:654px;width:76.5px;height:17px;text-align:right;">0</div>
<div class="t d" style="left:355px;top:654px;width:58px;height:17px;text-align:right;">$0</div>
<div class="t d" style="left:417px;top:654px;width:104px;height:17px;text-align:right;">$0</div>
<div class="t d" style="left:525px;top:654px;width:77px;height:17px;text-align:right;">0</div>
<div class="t d" style="left:606px;top:654px;width:58px;height:17px;text-align:right;">$0</div>
<div class="t d" style="left:668px;top:654px;width:103px;height:17px;text-align:right;">$528,294</div>
<div class="t d" style="left:776px;top:654px;width:76.5px;height:17px;text-align:right;">2,890</div>
<div class="t d" style="left:857px;top:654px;width:58px;height:17px;text-align:right;">$183</div>
<div class="t d b" style="left:919px;top:654px;width:116px;height:17px;text-align:right;">$528,294</div>
<div class="t d b" style="left:1040px;top:654px;width:76.5px;height:17px;text-align:right;">2,890</div>
<div class="t d b" style="left:1121px;top:654px;width:58px;height:17px;text-align:right;">$183</div>
<div class="t d i pc" style="left:1183px;top:654px;width:104px;height:17px;text-align:right;">$14,278,184</div>
<div class="t d" style="left:4px;top:672px;width:144px;height:17px;text-align:right;">Nebraska</div>
<div class="t d" style="left:153px;top:672px;width:116px;height:17px;text-align:right;">$0</div>
<div class="t d" style="left:274px;top:672px;width:76.5px;height:17px;text-align:right;">0</div>
<div class="t d" style="left:355px;top:672px;width:58px;height:17px;text-align:right;">$0</div>
<div class="t d" style="left:417px;top:672px;width:104px;height:17px;text-align:right;">$0</div>
<div class="t d" style="left:525px;top:672px;width:77px;height:17px;text-align:right;">0</div>
<div class="t d" style="left:606px;top:672px;width:58px;height:17px;text-align:right;">$0</div>
<div class="t d" style="left:668px;top:672px;width:103px;height:17px;text-align:right;">$827,045</div>
<div class="t d" style="left:776px;top:672px;width:76.5px;height:17px;text-align:right;">37,543</div>
<div class="t d" style="left:857px;top:672px;width:58px;height:17px;text-align:right;">$22</div>
<div class="t d b" style="left:919px;top:672px;width:116px;height:17px;text-align:right;">$827,045</div>
<div class="t d b" style="left:1040px;top:672px;width:76.5px;height:17px;text-align:right;">37,543</div>
<div class="t d b" style="left:1121px;top:672px;width:58px;height:17px;text-align:right;">$22</div>
<div class="t d i pc" style="left:1183px;top:672px;width:104px;height:17px;text-align:right;">$0</div>
<div class="t d" style="left:4px;top:690px;width:144px;height:17px;text-align:right;">Nevada</div>
<div class="t d" style="left:153px;top:690px;width:116px;height:17px;text-align:right;">$9,819</div>
<div class="t d" style="left:274px;top:690px;width:76.5px;height:17px;text-align:right;">434</div>
<div class="t d" style="left:355px;top:690px;width:58px;height:17px;text-align:right;">$23</div>
<div class="t d" style="left:417px;top:690px;width:104px;height:17px;text-align:right;">$7,494,112</div>
<div class="t d" style="left:525px;top:690px;width:77px;height:17px;text-align:right;">49,986</div>
<div class="t d" style="left:606px;top:690px;width:58px;height:17px;text-align:right;">$150</div>
<div class="t d" style="left:668px;top:690px;width:103px;height:17px;text-align:right;">$1,176,499</div>
<div class="t d" style="left:776px;top:690px;width:76.5px;height:17px;text-align:right;">17,144</div>
<div class="t d" style="left:857px;top:690px;width:58px;height:17px;text-align:right;">$69</div>
<div class="t d b" style="left:919px;top:690px;width:116px;height:17px;text-align:right;">$8,680,430</div>
<div class="t d b" style="left:1040px;top:690px;width:76.5px;height:17px;text-align:right;">67,564</div>
<div class="t d b" style="left:1121px;top:690px;width:58px;height:17px;text-align:right;">$128</div>
<div class="t d i pc" style="left:1183px;top:690px;width:104px;height:17px;text-align:right;">$360,387</div>
<div class="t d" style="left:4px;top:708px;width:144px;height:17px;text-align:right;">New Hampshire</div>
<div class="t d" style="left:153px;top:708px;width:116px;height:17px;text-align:right;">$24,258,397</div>
<div class="t d" style="left:274px;top:708px;width:76.5px;height:17px;text-align:right;">65,839</div>
<div class="t d" style="left:355px;top:708px;width:58px;height:17px;text-align:right;">$368</div>
<div class="t d" style="left:417px;top:708px;width:104px;height:17px;text-align:right;">$0</div>
<div class="t d" style="left:525px;top:708px;width:77px;height:17px;text-align:right;">0</div>
<div class="t d" style="left:606px;top:708px;width:58px;height:17px;text-align:right;">$0</div>
<div class="t d" style="left:668px;top:708px;width:103px;height:17px;text-align:right;">$2,829,634</div>
<div class="t d" style="left:776px;top:708px;width:76.5px;height:17px;text-align:right;">43,674</div>
<div class="t d" style="left:857px;top:708px;width:58px;height:17px;text-align:right;">$65</div>
<div class="t d b" style="left:919px;top:708px;width:116px;height:17px;text-align:right;">$27,088,031</div>
<div class="t d b" style="left:1040px;top:708px;width:76.5px;height:17px;text-align:right;">109,513</div>
<div class="t d b" style="left:1121px;top:708px;width:58px;height:17px;text-align:right;">$247</div>
<div class="t d i pc" style="left:1183px;top:708px;width:104px;height:17px;text-align:right;">$12,532,932</div>
<div class="t d" style="left:4px;top:726px;width:144px;height:17px;text-align:right;">New Jersey</div>
<div class="t d" style="left:153px;top:726px;width:116px;height:17px;text-align:right;">$0</div>
<div class="t d" style="left:274px;top:726px;width:76.5px;height:17px;text-align:right;">0</div>
<div class="t d" style="left:355px;top:726px;width:58px;height:17px;text-align:right;">$0</div>
<div class="t d" style="left:417px;top:726px;width:104px;height:17px;text-align:right;">$0</div>
<div class="t d" style="left:525px;top:726px;width:77px;height:17px;text-align:right;">0</div>
<div class="t d" style="left:606px;top:726px;width:58px;height:17px;text-align:right;">$0</div>
<div class="t d" style="left:668px;top:726px;width:103px;height:17px;text-align:right;">$15,568,469</div>
<div class="t d" style="left:776px;top:726px;width:76.5px;height:17px;text-align:right;">103,367</div>
<div class="t d" style="left:857px;top:726px;width:58px;height:17px;text-align:right;">$151</div>
<div class="t d b" style="left:919px;top:726px;width:116px;height:17px;text-align:right;">$15,568,469</div>
<div class="t d b" style="left:1040px;top:726px;width:76.5px;height:17px;text-align:right;">103,367</div>
<div class="t d b" style="left:1121px;top:726px;width:58px;height:17px;text-align:right;">$151</div>
<div class="t d i pc" style="left:1183px;top:726px;width:104px;height:17px;text-align:right;">$53,076</div>
<div class="t d" style="left:4px;top:744px;width:144px;height:17px;text-align:right;">New Mexico</div>
<div class="t d" style="left:153px;top:744px;width:116px;height:17px;text-align:right;">$12,670,833</div>
<div class="t d" style="left:274px;top:744px;width:76.5px;height:17px;text-align:right;">24,665</div>
<div class="t d" style="left:355px;top:744px;width:58px;height:17px;text-align:right;">$514</div>
<div class="t d" style="left:417px;top:744px;width:104px;height:17px;text-align:right;">$1,510,102</div>
<div class="t d" style="left:525px;top:744px;width:77px;height:17px;text-align:right;">7,265</div>
<div class="t d" style="left:606px;top:744px;width:58px;height:17px;text-align:right;">$208</div>
<div class="t d" style="left:668px;top:744px;width:103px;height:17px;text-align:right;">$0</div>
<div class="t d" style="left:776px;top:744px;width:76.5px;height:17px;text-align:right;">0</div>
<div class="t d" style="left:857px;top:744px;width:58px;height:17px;text-align:right;">$0</div>
<div class="t d b" style="left:919px;top:744px;width:116px;height:17px;text-align:right;">$14,180,935</div>
<div class="t d b" style="left:1040px;top:744px;width:76.5px;height:17px;text-align:right;">31,930</div>
<div class="t d b" style="left:1121px;top:744px;width:58px;height:17px;text-align:right;">$444</div>
<div class="t d i pc" style="left:1183px;top:744px;width:104px;height:17px;text-align:right;">$16,650,976</div>
<div class="t d" style="left:4px;top:762px;width:144px;height:17px;text-align:right;">New York</div>
<div class="t d" style="left:153px;top:762px;width:116px;height:17px;text-align:right;">$87,492</div>
<div class="t d" style="left:274px;top:762px;width:76.5px;height:17px;text-align:right;">60,079</div>
<div class="t d" style="left:355px;top:762px;width:58px;height:17px;text-align:right;">$1</div>
<div class="t d" style="left:417px;top:762px;width:104px;height:17px;text-align:right;">$0</div>
<div class="t d" style="left:525px;top:762px;width:77px;height:17px;text-align:right;">0</div>
<div class="t d" style="left:606px;top:762px;width:58px;height:17px;text-align:right;">$0</div>
<div class="t d" style="left:668px;top:762px;width:103px;height:17px;text-align:right;">$23,955,279</div>
<div class="t d" style="left:776px;top:762px;width:76.5px;height:17px;text-align:right;">390,507</div>
<div class="t d" style="left:857px;top:762px;width:58px;height:17px;text-align:right;">$61</div>
<div class="t d b" style="left:919px;top:762px;width:116px;height:17px;text-align:right;">$24,042,771</div>
<div class="t d b" style="left:1040px;top:762px;width:76.5px;height:17px;text-align:right;">450,586</div>
<div class="t d b" style="left:1121px;top:762px;width:58px;height:17px;text-align:right;">$53</div>
<div class="t d i pc" style="left:1183px;top:762px;width:104px;height:17px;text-align:right;">$10,000,373</div>
<div class="t d" style="left:4px;top:780px;width:144px;height:17px;text-align:right;">North Carolina</div>
<div class="t d" style="left:153px;top:780px;width:116px;height:17px;text-align:right;">$9,804,097</div>
<div class="t d" style="left:274px;top:780px;width:76.5px;height:17px;text-align:right;">491,909</div>
<div class="t d" style="left:355px;top:780px;width:58px;height:17px;text-align:right;">$20</div>
<div class="t d" style="left:417px;top:780px;width:104px;height:17px;text-align:right;">$0</div>
<div class="t d" style="left:525px;top:780px;width:77px;height:17px;text-align:right;">0</div>
<div class="t d" style="left:606px;top:780px;width:58px;height:17px;text-align:right;">$0</div>
<div class="t d" style="left:668px;top:780px;width:103px;height:17px;text-align:right;">$70,471</div>
<div class="t d" style="left:776px;top:780px;width:76.5px;height:17px;text-align:right;">643</div>
<div class="t d" style="left:857px;top:780px;width:58px;height:17px;text-align:right;">$110</div>
<div class="t d b" style="left:919px;top:780px;width:116px;height:17px;text-align:right;">$9,874,568</div>
<div class="t d b" style="left:1040px;top:780px;width:76.5px;height:17px;text-align:right;">492,552</div>
<div class="t d b" style="left:1121px;top:780px;width:58px;height:17px;text-align:right;">$20</div>
<div class="t d i pc" style="left:1183px;top:780px;width:104px;height:17px;text-align:right;">$3,477,982</div>
<div class="t d" style="left:4px;top:798px;width:144px;height:17px;text-align:right;">North Dakota</div>
<div class="t d" style="left:153px;top:798px;width:116px;height:17px;text-align:right;">$0</div>
<div class="t d" style="left:274px;top:798px;width:76.5px;height:17px;text-align:right;">0</div>
<div class="t d" style="left:355px;top:798px;width:58px;height:17px;text-align:right;">$0</div>
<div class="t d" style="left:417px;top:798px;width:104px;height:17px;text-align:right;">$0</div>
<div class="t d" style="left:525px;top:798px;width:77px;height:17px;text-align:right;">0</div>
<div class="t d" style="left:606px;top:798px;width:58px;height:17px;text-align:right;">$0</div>
<div class="t d" style="left:668px;top:798px;width:103px;height:17px;text-align:right;">$0</div>
<div class="t d" style="left:776px;top:798px;width:76.5px;height:17px;text-align:right;">0</div>
<div class="t d" style="left:857px;top:798px;width:58px;height:17px;text-align:right;">$0</div>
<div class="t d b" style="left:919px;top:798px;width:116px;height:17px;text-align:right;">$0</div>
<div class="t d b" style="left:1040px;top:798px;width:76.5px;height:17px;text-align:right;">0</div>
<div class="t d b" style="left:1121px;top:798px;width:58px;height:17px;text-align:right;">$0</div>
<div class="t d i pc" style="left:1183px;top:798px;width:104px;height:17px;text-align:right;">$0</div>
<div class="t d" style="left:4px;top:816px;width:144px;height:17px;text-align:right;">Ohio</div>
<div class="t d" style="left:153px;top:816px;width:116px;height:17px;text-align:right;">$345,292</div>
<div class="t d" style="left:274px;top:816px;width:76.5px;height:17px;text-align:right;">8,286</div>
<div class="t d" style="left:355px;top:816px;width:58px;height:17px;text-align:right;">$42</div>
<div class="t d" style="left:417px;top:816px;width:104px;height:17px;text-align:right;">$3,448,153</div>
<div class="t d" style="left:525px;top:816px;width:77px;height:17px;text-align:right;">8,196</div>
<div class="t d" style="left:606px;top:816px;width:58px;height:17px;text-align:right;">$421</div>
<div class="t d" style="left:668px;top:816px;width:103px;height:17px;text-align:right;">$862,829</div>
<div class="t d" style="left:776px;top:816px;width:76.5px;height:17px;text-align:right;">7,092</div>
<div class="t d" style="left:857px;top:816px;width:58px;height:17px;text-align:right;">$122</div>
<div class="t d b" style="left:919px;top:816px;width:116px;height:17px;text-align:right;">$4,656,274</div>
<div class="t d b" style="left:1040px;top:816px;width:76.5px;height:17px;text-align:right;">23,574</div>
<div class="t d b" style="left:1121px;top:816px;width:58px;height:17px;text-align:right;">$198</div>
<div class="t d i pc" style="left:1183px;top:816px;width:104px;height:17px;text-align:right;">$7,030,490</div>
<div class="t d" style="left:4px;top:834px;width:144px;height:17px;text-align:right;">Oklahoma</div>
<div class="t d" style="left:153px;top:834px;width:116px;height:17px;text-align:right;">$3,238,643</div>
<div class="t d" style="left:274px;top:834px;width:76.5px;height:17px;text-align:right;">142,398</div>
<div class="t d" style="left:355px;top:834px;width:58px;height:17px;text-align:right;">$23</div>
<div class="t d" style="left:417px;top:834px;width:104px;height:17px;text-align:right;">$12,761,841</div>
<div class="t d" style="left:525px;top:834px;width:77px;height:17px;text-align:right;">150,354</div>
<div class="t d" style="left:606px;top:834px;width:58px;height:17px;text-align:right;">$85</div>
<div class="t d" style="left:668px;top:834px;width:103px;height:17px;text-align:right;">$0</div>
<div class="t d" style="left:776px;top:834px;width:76.5px;height:17px;text-align:right;">0</div>
<div class="t d" style="left:857px;top:834px;width:58px;height:17px;text-align:right;">$0</div>
<div class="t d b" style="left:919px;top:834px;width:116px;height:17px;text-align:right;">$16,000,484</div>
<div class="t d b" style="left:1040px;top:834px;width:76.5px;height:17px;text-align:right;">292,752</div>
<div class="t d b" style="left:1121px;top:834px;width:58px;height:17px;text-align:right;">$55</div>
<div class="t d i pc" style="left:1183px;top:834px;width:104px;height:17px;text-align:right;">$45,118,377</div>
<div class="t d" style="left:4px;top:852px;width:144px;height:17px;text-align:right;">Oregon</div>
<div class="t d" style="left:153px;top:852px;width:116px;height:17px;text-align:right;">$0</div>
<div class="t d" style="left:274px;top:852px;width:76.5px;height:17px;text-align:right;">0</div>
<div class="t d" style="left:355px;top:852px;width:58px;height:17px;text-align:right;">$0</div>
<div class="t d" style="left:417px;top:852px;width:104px;height:17px;text-align:right;">$0</div>
<div class="t d" style="left:525px;top:852px;width:77px;height:17px;text-align:right;">0</div>
<div class="t d" style="left:606px;top:852px;width:58px;height:17px;text-align:right;">$0</div>
<div class="t d" style="left:668px;top:852px;width:103px;height:17px;text-align:right;">$0</div>
<div class="t d" style="left:776px;top:852px;width:76.5px;height:17px;text-align:right;">0</div>
<div class="t d" style="left:857px;top:852px;width:58px;height:17px;text-align:right;">$0</div>
<div class="t d b" style="left:919px;top:852px;width:116px;height:17px;text-align:right;">$0</div>
<div class="t d b" style="left:1040px;top:852px;width:76.5px;height:17px;text-align:right;">0</div>
<div class="t d b" style="left:1121px;top:852px;width:58px;height:17px;text-align:right;">$0</div>
<div class="t d i pc" style="left:1183px;top:852px;width:104px;height:17px;text-align:right;">$23,606</div>
<div class="t d" style="left:4px;top:870px;width:144px;height:17px;text-align:right;">Pennsylvania</div>
<div class="t d" style="left:153px;top:870px;width:116px;height:17px;text-align:right;">$69,465,869</div>
<div class="t d" style="left:274px;top:870px;width:76.5px;height:17px;text-align:right;">67,228</div>
<div class="t d" style="left:355px;top:870px;width:58px;height:17px;text-align:right;">$1,033</div>
<div class="t d" style="left:417px;top:870px;width:104px;height:17px;text-align:right;">$21,996,630</div>
<div class="t d" style="left:525px;top:870px;width:77px;height:17px;text-align:right;">129,804</div>
<div class="t d" style="left:606px;top:870px;width:58px;height:17px;text-align:right;">$169</div>
<div class="t d" style="left:668px;top:870px;width:103px;height:17px;text-align:right;">$38,522,199</div>
<div class="t d" style="left:776px;top:870px;width:76.5px;height:17px;text-align:right;">252,858</div>
<div class="t d" style="left:857px;top:870px;width:58px;height:17px;text-align:right;">$152</div>
<div class="t d b" style="left:919px;top:870px;width:116px;height:17px;text-align:right;">$129,984,698</div>
<div class="t d b" style="left:1040px;top:870px;width:76.5px;height:17px;text-align:right;">449,890</div>
<div class="t d b" style="left:1121px;top:870px;width:58px;height:17px;text-align:right;">$289</div>
<div class="t d i pc" style="left:1183px;top:870px;width:104px;height:17px;text-align:right;">$124,326,799</div>
<div class="t d" style="left:4px;top:888px;width:144px;height:17px;text-align:right;">Rhode Island</div>
<div class="t d" style="left:153px;top:888px;width:116px;height:17px;text-align:right;">$0</div>
<div class="t d" style="left:274px;top:888px;width:76.5px;height:17px;text-align:right;">0</div>
<div class="t d" style="left:355px;top:888px;width:58px;height:17px;text-align:right;">$0</div>
<div class="t d" style="left:417px;top:888px;width:104px;height:17px;text-align:right;">$0</div>
<div class="t d" style="left:525px;top:888px;width:77px;height:17px;text-align:right;">0</div>
<div class="t d" style="left:606px;top:888px;width:58px;height:17px;text-align:right;">$0</div>
<div class="t d" style="left:668px;top:888px;width:103px;height:17px;text-align:right;">$0</div>
<div class="t d" style="left:776px;top:888px;width:76.5px;height:17px;text-align:right;">0</div>
<div class="t d" style="left:857px;top:888px;width:58px;height:17px;text-align:right;">$0</div>
<div class="t d b" style="left:919px;top:888px;width:116px;height:17px;text-align:right;">$0</div>
<div class="t d b" style="left:1040px;top:888px;width:76.5px;height:17px;text-align:right;">0</div>
<div class="t d b" style="left:1121px;top:888px;width:58px;height:17px;text-align:right;">$0</div>
<div class="t d i pc" style="left:1183px;top:888px;width:104px;height:17px;text-align:right;">$0</div>
<div class="t d" style="left:4px;top:906px;width:144px;height:17px;text-align:right;">South Carolina</div>
<div class="t d" style="left:153px;top:906px;width:116px;height:17px;text-align:right;">$17,128</div>
<div class="t d" style="left:274px;top:906px;width:76.5px;height:17px;text-align:right;">751</div>
<div class="t d" style="left:355px;top:906px;width:58px;height:17px;text-align:right;">$23</div>
<div class="t d" style="left:417px;top:906px;width:104px;height:17px;text-align:right;">$2,630,390</div>
<div class="t d" style="left:525px;top:906px;width:77px;height:17px;text-align:right;">52,900</div>
<div class="t d" style="left:606px;top:906px;width:58px;height:17px;text-align:right;">$50</div>
<div class="t d" style="left:668px;top:906px;width:103px;height:17px;text-align:right;">$4,054,125</div>
<div class="t d" style="left:776px;top:906px;width:76.5px;height:17px;text-align:right;">46,037</div>
<div class="t d" style="left:857px;top:906px;width:58px;height:17px;text-align:right;">$88</div>
<div class="t d b" style="left:919px;top:906px;width:116px;height:17px;text-align:right;">$6,701,643</div>
<div class="t d b" style="left:1040px;top:906px;width:76.5px;height:17px;text-align:right;">99,688</div>
<div class="t d b" style="left:1121px;top:906px;width:58px;height:17px;text-align:right;">$67</div>
<div class="t d i pc" style="left:1183px;top:906px;width:104px;height:17px;text-align:right;">$10,181,265</div>
<div class="t d" style="left:4px;top:924px;width:144px;height:17px;text-align:right;">South Dakota</div>
<div class="t d" style="left:153px;top:924px;width:116px;height:17px;text-align:right;">$0</div>
<div class="t d" style="left:274px;top:924px;width:76.5px;height:17px;text-align:right;">0</div>
<div class="t d" style="left:355px;top:924px;width:58px;height:17px;text-align:right;">$0</div>
<div class="t d" style="left:417px;top:924px;width:104px;height:17px;text-align:right;">$0</div>
<div class="t d" style="left:525px;top:924px;width:77px;height:17px;text-align:right;">0</div>
<div class="t d" style="left:606px;top:924px;width:58px;height:17px;text-align:right;">$0</div>
<div class="t d" style="left:668px;top:924px;width:103px;height:17px;text-align:right;">$0</div>
<div class="t d" style="left:776px;top:924px;width:76.5px;height:17px;text-align:right;">0</div>
<div class="t d" style="left:857px;top:924px;width:58px;height:17px;text-align:right;">$0</div>
<div class="t d b" style="left:919px;top:924px;width:116px;height:17px;text-align:right;">$0</div>
<div class="t d b" style="left:1040px;top:924px;width:76.5px;height:17px;text-align:right;">0</div>
<div class="t d b" style="left:1121px;top:924px;width:58px;height:17px;text-align:right;">$0</div>
<div class="t d i pc" style="left:1183px;top:924px;width:104px;height:17px;text-align:right;">$0</div>
<div class="t d" style="left:4px;top:942px;width:144px;height:17px;text-align:right;">Tennessee</div>
<div class="t d" style="left:153px;top:942px;width:116px;height:17px;text-align:right;">$56,945,181</div>
<div class="t d" style="left:274px;top:942px;width:76.5px;height:17px;text-align:right;">173,881</div>
<div class="t d" style="left:355px;top:942px;width:58px;height:17px;text-align:right;">$327</div>
<div class="t d" style="left:417px;top:942px;width:104px;height:17px;text-align:right;">$5,479,282</div>
<div class="t d" style="left:525px;top:942px;width:77px;height:17px;text-align:right;">144,842</div>
<div class="t d" style="left:606px;top:942px;width:58px;height:17px;text-align:right;">$38</div>
<div class="t d" style="left:668px;top:942px;width:103px;height:17px;text-align:right;">$164,878</div>
<div class="t d" style="left:776px;top:942px;width:76.5px;height:17px;text-align:right;">4,019</div>
<div class="t d" style="left:857px;top:942px;width:58px;height:17px;text-align:right;">$41</div>
<div class="t d b" style="left:919px;top:942px;width:116px;height:17px;text-align:right;">$62,589,341</div>
<div class="t d b" style="left:1040px;top:942px;width:76.5px;height:17px;text-align:right;">322,742</div>
<div class="t d b" style="left:1121px;top:942px;width:58px;height:17px;text-align:right;">$194</div>
<div class="t d i pc" style="left:1183px;top:942px;width:104px;height:17px;text-align:right;">$125,174,702</div>
<div class="t d" style="left:4px;top:960px;width:144px;height:17px;text-align:right;">Texas</div>
<div class="t d" style="left:153px;top:960px;width:116px;height:17px;text-align:right;">$80,374,881</div>
<div class="t d" style="left:274px;top:960px;width:76.5px;height:17px;text-align:right;">591,858</div>
<div class="t d" style="left:355px;top:960px;width:58px;height:17px;text-align:right;">$136</div>
<div class="t d" style="left:417px;top:960px;width:104px;height:17px;text-align:right;">$0</div>
<div class="t d" style="left:525px;top:960px;width:77px;height:17px;text-align:right;">0</div>
<div class="t d" style="left:606px;top:960px;width:58px;height:17px;text-align:right;">$0</div>
<div class="t d" style="left:668px;top:960px;width:103px;height:17px;text-align:right;">$11,500,755</div>
<div class="t d" style="left:776px;top:960px;width:76.5px;height:17px;text-align:right;">31,454</div>
<div class="t d" style="left:857px;top:960px;width:58px;height:17px;text-align:right;">$366</div>
<div class="t d b" style="left:919px;top:960px;width:116px;height:17px;text-align:right;">$91,875,636</div>
<div class="t d b" style="left:1040px;top:960px;width:76.5px;height:17px;text-align:right;">623,312</div>
<div class="t d b" style="left:1121px;top:960px;width:58px;height:17px;text-align:right;">$147</div>
<div class="t d i pc" style="left:1183px;top:960px;width:104px;height:17px;text-align:right;">$263,223,236</div>
<div class="t d" style="left:4px;top:978px;width:144px;height:17px;text-align:right;">Utah</div>
<div class="t d" style="left:153px;top:978px;width:116px;height:17px;text-align:right;">$4,195,482</div>
<div class="t d" style="left:274px;top:978px;width:76.5px;height:17px;text-align:right;">20,419</div>
<div class="t d" style="left:355px;top:978px;width:58px;height:17px;text-align:right;">$205</div>
<div class="t d" style="left:417px;top:978px;width:104px;height:17px;text-align:right;">$4,234,303</div>
<div class="t d" style="left:525px;top:978px;width:77px;height:17px;text-align:right;">27,481</div>
<div class="t d" style="left:606px;top:978px;width:58px;height:17px;text-align:right;">$154</div>
<div class="t d" style="left:668px;top:978px;width:103px;height:17px;text-align:right;">$0</div>
<div class="t d" style="left:776px;top:978px;width:76.5px;height:17px;text-align:right;">0</div>
<div class="t d" style="left:857px;top:978px;width:58px;height:17px;text-align:right;">$0</div>
<div class="t d b" style="left:919px;top:978px;width:116px;height:17px;text-align:right;">$8,429,785</div>
<div class="t d b" style="left:1040px;top:978px;width:76.5px;height:17px;text-align:right;">47,900</div>
<div class="t d b" style="left:1121px;top:978px;width:58px;height:17px;text-align:right;">$176</div>
<div class="t d i pc" style="left:1183px;top:978px;width:104px;height:17px;text-align:right;">$11,432,951</div>
<div class="t d" style="left:4px;top:996px;width:144px;height:17px;text-align:right;">Vermont</div>
<div class="t d" style="left:153px;top:996px;width:116px;height:17px;text-align:right;">$0</div>
<div class="t d" style="left:274px;top:996px;width:76.5px;height:17px;text-align:right;">0</div>
<div class="t d" style="left:355px;top:996px;width:58px;height:17px;text-align:right;">$0</div>
<div class="t d" style="left:417px;top:996px;width:104px;height:17px;text-align:right;">$0</div>
<div class="t d" style="left:525px;top:996px;width:77px;height:17px;text-align:right;">0</div>
<div class="t d" style="left:606px;top:996px;width:58px;height:17px;text-align:right;">$0</div>
<div class="t d" style="left:668px;top:996px;width:103px;height:17px;text-align:right;">$0</div>
<div class="t d" style="left:776px;top:996px;width:76.5px;height:17px;text-align:right;">0</div>
<div class="t d" style="left:857px;top:996px;width:58px;height:17px;text-align:right;">$0</div>
<div class="t d b" style="left:919px;top:996px;width:116px;height:17px;text-align:right;">$0</div>
<div class="t d b" style="left:1040px;top:996px;width:76.5px;height:17px;text-align:right;">0</div>
<div class="t d b" style="left:1121px;top:996px;width:58px;height:17px;text-align:right;">$0</div>
<div class="t d i pc" style="left:1183px;top:996px;width:104px;height:17px;text-align:right;">$0</div>
<div class="t d" style="left:4px;top:1014px;width:144px;height:17px;text-align:right;">Virginia</div>
<div class="t d" style="left:153px;top:1014px;width:116px;height:17px;text-align:right;">$111,302,663</div>
<div class="t d" style="left:274px;top:1014px;width:76.5px;height:17px;text-align:right;">167,640</div>
<div class="t d" style="left:355px;top:1014px;width:58px;height:17px;text-align:right;">$664</div>
<div class="t d" style="left:417px;top:1014px;width:104px;height:17px;text-align:right;">$12,179,947</div>
<div class="t d" style="left:525px;top:1014px;width:77px;height:17px;text-align:right;">196,545</div>
<div class="t d" style="left:606px;top:1014px;width:58px;height:17px;text-align:right;">$62</div>
<div class="t d" style="left:668px;top:1014px;width:103px;height:17px;text-align:right;">$26,082,040</div>
<div class="t d" style="left:776px;top:1014px;width:76.5px;height:17px;text-align:right;">132,103</div>
<div class="t d" style="left:857px;top:1014px;width:58px;height:17px;text-align:right;">$197</div>
<div class="t d b" style="left:919px;top:1014px;width:116px;height:17px;text-align:right;">$149,564,650</div>
<div class="t d b" style="left:1040px;top:1014px;width:76.5px;height:17px;text-align:right;">496,288</div>
<div class="t d b" style="left:1121px;top:1014px;width:58px;height:17px;text-align:right;">$301</div>
<div class="t d i pc" style="left:1183px;top:1014px;width:104px;height:17px;text-align:right;">$179,437,719</div>
<div class="t d" style="left:4px;top:1032px;width:144px;height:17px;text-align:right;">Washington State</div>
<div class="t d" style="left:153px;top:1032px;width:116px;height:17px;text-align:right;">$22,040</div>
<div class="t d" style="left:274px;top:1032px;width:76.5px;height:17px;text-align:right;">383</div>
<div class="t d" style="left:355px;top:1032px;width:58px;height:17px;text-align:right;">$58</div>
<div class="t d" style="left:417px;top:1032px;width:104px;height:17px;text-align:right;">$0</div>
<div class="t d" style="left:525px;top:1032px;width:77px;height:17px;text-align:right;">0</div>
<div class="t d" style="left:606px;top:1032px;width:58px;height:17px;text-align:right;">$0</div>
<div class="t d" style="left:668px;top:1032px;width:103px;height:17px;text-align:right;">$3,674,872</div>
<div class="t d" style="left:776px;top:1032px;width:76.5px;height:17px;text-align:right;">215,650</div>
<div class="t d" style="left:857px;top:1032px;width:58px;height:17px;text-align:right;">$17</div>
<div class="t d b" style="left:919px;top:1032px;width:116px;height:17px;text-align:right;">$3,696,912</div>
<div class="t d b" style="left:1040px;top:1032px;width:76.5px;height:17px;text-align:right;">216,033</div>
<div class="t d b" style="left:1121px;top:1032px;width:58px;height:17px;text-align:right;">$17</div>
<div class="t d i pc" style="left:1183px;top:1032px;width:104px;height:17px;text-align:right;">$39,359,797</div>
<div class="t d" style="left:4px;top:1050px;width:144px;height:17px;text-align:right;">West Virginia</div>
<div class="t d" style="left:153px;top:1050px;width:116px;height:17px;text-align:right;">$0</div>
<div class="t d" style="left:274px;top:1050px;width:76.5px;height:17px;text-align:right;">0</div>
<div class="t d" style="left:355px;top:1050px;width:58px;height:17px;text-align:right;">$0</div>
<div class="t d" style="left:417px;top:1050px;width:104px;height:17px;text-align:right;">$0</div>
<div class="t d" style="left:525px;top:1050px;width:77px;height:17px;text-align:right;">0</div>
<div class="t d" style="left:606px;top:1050px;width:58px;height:17px;text-align:right;">$0</div>
<div class="t d" style="left:668px;top:1050px;width:103px;height:17px;text-align:right;">$1,373,859</div>
<div class="t d" style="left:776px;top:1050px;width:76.5px;height:17px;text-align:right;">3,629</div>
<div class="t d" style="left:857px;top:1050px;width:58px;height:17px;text-align:right;">$379</div>
<div class="t d b" style="left:919px;top:1050px;width:116px;height:17px;text-align:right;">$1,373,859</div>
<div class="t d b" style="left:1040px;top:1050px;width:76.5px;height:17px;text-align:right;">3,629</div>
<div class="t d b" style="left:1121px;top:1050px;width:58px;height:17px;text-align:right;">$379</div>
<div class="t d i pc" style="left:1183px;top:1050px;width:104px;height:17px;text-align:right;">$1,911,601</div>
<div class="t d" style="left:4px;top:1068px;width:144px;height:17px;text-align:right;">Wisconsin</div>
<div class="t d" style="left:153px;top:1068px;width:116px;height:17px;text-align:right;">$18,469,260</div>
<div class="t d" style="left:274px;top:1068px;width:76.5px;height:17px;text-align:right;">51,533</div>
<div class="t d" style="left:355px;top:1068px;width:58px;height:17px;text-align:right;">$358</div>
<div class="t d" style="left:417px;top:1068px;width:104px;height:17px;text-align:right;">$1,981,411</div>
<div class="t d" style="left:525px;top:1068px;width:77px;height:17px;text-align:right;">93,621</div>
<div class="t d" style="left:606px;top:1068px;width:58px;height:17px;text-align:right;">$21</div>
<div class="t d" style="left:668px;top:1068px;width:103px;height:17px;text-align:right;">$0</div>
<div class="t d" style="left:776px;top:1068px;width:76.5px;height:17px;text-align:right;">0</div>
<div class="t d" style="left:857px;top:1068px;width:58px;height:17px;text-align:right;">$0</div>
<div class="t d b" style="left:919px;top:1068px;width:116px;height:17px;text-align:right;">$20,450,671</div>
<div class="t d b" style="left:1040px;top:1068px;width:76.5px;height:17px;text-align:right;">145,154</div>
<div class="t d b" style="left:1121px;top:1068px;width:58px;height:17px;text-align:right;">$141</div>
<div class="t d i pc" style="left:1183px;top:1068px;width:104px;height:17px;text-align:right;">$22,620,572</div>
<div class="t d" style="left:4px;top:1086px;width:144px;height:17px;text-align:right;">Wyoming</div>
<div class="t d" style="left:153px;top:1086px;width:116px;height:17px;text-align:right;">$0</div>
<div class="t d" style="left:274px;top:1086px;width:76.5px;height:17px;text-align:right;">0</div>
<div class="t d" style="left:355px;top:1086px;width:58px;height:17px;text-align:right;">$0</div>
<div class="t d" style="left:417px;top:1086px;width:104px;height:17px;text-align:right;">$0</div>
<div class="t d" style="left:525px;top:1086px;width:77px;height:17px;text-align:right;">0</div>
<div class="t d" style="left:606px;top:1086px;width:58px;height:17px;text-align:right;">$0</div>
<div class="t d" style="left:668px;top:1086px;width:103px;height:17px;text-align:right;">$0</div>
<div class="t d" style="left:776px;top:1086px;width:76.5px;height:17px;text-align:right;">0</div>
<div class="t d" style="left:857px;top:1086px;width:58px;height:17px;text-align:right;">$0</div>
<div class="t d b" style="left:919px;top:1086px;width:116px;height:17px;text-align:right;">$0</div>
<div class="t d b" style="left:1040px;top:1086px;width:76.5px;height:17px;text-align:right;">0</div>
<div class="t d b" style="left:1121px;top:1086px;width:58px;height:17px;text-align:right;">$0</div>
<div class="t d i pc" style="left:1183px;top:1086px;width:104px;height:17px;text-align:right;">$0</div>
<div class="r" style="left:0px;top:1123px;width:1292px;height:1px;background:#cbcccf"></div>
<div class="r" style="left:0px;top:1142px;width:1292px;height:1px;background:#cbcccf"></div>
<div class="r" style="left:0px;top:1147px;width:1292px;height:1px;background:#cbcccf"></div>
<div class="r" style="left:0px;top:1166px;width:1292px;height:1px;background:#cbcccf"></div>
<div class="r" style="left:0px;top:1172px;width:1292px;height:1px;background:#cbcccf"></div>
<div class="r" style="left:0px;top:1191px;width:1292px;height:1px;background:#cbcccf"></div>
<div class="r" style="left:152px;top:1105px;width:1px;height:89px;background:#cbcccf"></div>
<div class="r" style="left:273px;top:1105px;width:1px;height:89px;background:#cbcccf"></div>
<div class="r" style="left:354px;top:1105px;width:1px;height:89px;background:#cbcccf"></div>
<div class="r" style="left:416px;top:1105px;width:1px;height:89px;background:#cbcccf"></div>
<div class="r" style="left:524px;top:1105px;width:1px;height:89px;background:#cbcccf"></div>
<div class="r" style="left:605px;top:1105px;width:1px;height:89px;background:#cbcccf"></div>
<div class="r" style="left:667px;top:1105px;width:1px;height:89px;background:#cbcccf"></div>
<div class="r" style="left:775px;top:1105px;width:1px;height:89px;background:#cbcccf"></div>
<div class="r" style="left:856px;top:1105px;width:1px;height:89px;background:#cbcccf"></div>
<div class="r" style="left:918px;top:1105px;width:1px;height:89px;background:#cbcccf"></div>
<div class="r" style="left:1039px;top:1105px;width:1px;height:89px;background:#cbcccf"></div>
<div class="r" style="left:1120px;top:1105px;width:1px;height:89px;background:#cbcccf"></div>
<div class="r" style="left:1182px;top:1105px;width:1px;height:89px;background:#cbcccf"></div>
<div class="r" style="left:1290px;top:1105px;width:1px;height:89px;background:#cbcccf"></div>
<div class="r" style="left:3px;top:1105px;width:1px;height:89px;background:#cbcccf"></div>
<div class="r" style="left:2px;top:1122px;width:1181px;height:21px;background:#000"></div>
<div class="r" style="left:4px;top:1124px;width:147px;height:17px;background:#f9c9a6"></div>
<div class="r" style="left:153px;top:1124px;width:120px;height:17px;background:#f9c9a6"></div>
<div class="r" style="left:274px;top:1124px;width:80px;height:17px;background:#f9c9a6"></div>
<div class="r" style="left:355px;top:1124px;width:60px;height:17px;background:#f9c9a6"></div>
<div class="r" style="left:417px;top:1124px;width:107px;height:17px;background:#f9c9a6"></div>
<div class="r" style="left:525px;top:1124px;width:80px;height:17px;background:#f9c9a6"></div>
<div class="r" style="left:606px;top:1124px;width:60px;height:17px;background:#f9c9a6"></div>
<div class="r" style="left:668px;top:1124px;width:107px;height:17px;background:#f9c9a6"></div>
<div class="r" style="left:776px;top:1124px;width:80px;height:17px;background:#f9c9a6"></div>
<div class="r" style="left:857px;top:1124px;width:60px;height:17px;background:#f9c9a6"></div>
<div class="r" style="left:919px;top:1124px;width:119px;height:17px;background:#f9c9a6"></div>
<div class="r" style="left:1040px;top:1124px;width:80px;height:17px;background:#f9c9a6"></div>
<div class="r" style="left:1121px;top:1124px;width:60px;height:17px;background:#f9c9a6"></div>
<div class="t d b" style="left:4px;top:1124px;width:144px;height:17px;text-align:right;">2017 Totals</div>
<div class="t d b" style="left:153px;top:1124px;width:116px;height:17px;text-align:right;">$132,529,262</div>
<div class="t d b" style="left:274px;top:1124px;width:76.5px;height:17px;text-align:right;">966,722</div>
<div class="t d b" style="left:355px;top:1124px;width:58px;height:17px;text-align:right;">$137</div>
<div class="t d b" style="left:417px;top:1124px;width:104px;height:17px;text-align:right;">$309,406,876</div>
<div class="t d b" style="left:525px;top:1124px;width:77px;height:17px;text-align:right;">2,672,683</div>
<div class="t d b" style="left:606px;top:1124px;width:58px;height:17px;text-align:right;">$116</div>
<div class="t d b" style="left:668px;top:1124px;width:103px;height:17px;text-align:right;">$264,798,988</div>
<div class="t d b" style="left:776px;top:1124px;width:76.5px;height:17px;text-align:right;">2,321,093</div>
<div class="t d b" style="left:857px;top:1124px;width:58px;height:17px;text-align:right;">$114</div>
<div class="t d b" style="left:919px;top:1124px;width:116px;height:17px;text-align:right;">$706,735,126</div>
<div class="t d b" style="left:1040px;top:1124px;width:76.5px;height:17px;text-align:right;">5,960,498</div>
<div class="t d b" style="left:1121px;top:1124px;width:58px;height:17px;text-align:right;">$119</div>
<div class="r" style="left:2px;top:1146px;width:1181px;height:21px;background:#000"></div>
<div class="r" style="left:4px;top:1148px;width:147px;height:17px;background:#f6ef22"></div>
<div class="r" style="left:153px;top:1148px;width:120px;height:17px;background:#f6ef22"></div>
<div class="r" style="left:274px;top:1148px;width:80px;height:17px;background:#f6ef22"></div>
<div class="r" style="left:355px;top:1148px;width:60px;height:17px;background:#f6ef22"></div>
<div class="r" style="left:417px;top:1148px;width:107px;height:17px;background:#f6ef22"></div>
<div class="r" style="left:525px;top:1148px;width:80px;height:17px;background:#f6ef22"></div>
<div class="r" style="left:606px;top:1148px;width:60px;height:17px;background:#f6ef22"></div>
<div class="r" style="left:668px;top:1148px;width:107px;height:17px;background:#f6ef22"></div>
<div class="r" style="left:776px;top:1148px;width:80px;height:17px;background:#f6ef22"></div>
<div class="r" style="left:857px;top:1148px;width:60px;height:17px;background:#f6ef22"></div>
<div class="r" style="left:919px;top:1148px;width:119px;height:17px;background:#f6ef22"></div>
<div class="r" style="left:1040px;top:1148px;width:80px;height:17px;background:#f6ef22"></div>
<div class="r" style="left:1121px;top:1148px;width:60px;height:17px;background:#f6ef22"></div>
<div class="t d b" style="left:4px;top:1148px;width:144px;height:17px;text-align:right;">2018 Totals</div>
<div class="t d b" style="left:153px;top:1148px;width:116px;height:17px;text-align:right;">$768,731,103</div>
<div class="t d b" style="left:274px;top:1148px;width:76.5px;height:17px;text-align:right;">3,338,792</div>
<div class="t d b" style="left:355px;top:1148px;width:58px;height:17px;text-align:right;">$230</div>
<div class="t d b" style="left:417px;top:1148px;width:104px;height:17px;text-align:right;">$311,704,269</div>
<div class="t d b" style="left:525px;top:1148px;width:77px;height:17px;text-align:right;">2,962,956</div>
<div class="t d b" style="left:606px;top:1148px;width:58px;height:17px;text-align:right;">$105</div>
<div class="t d b" style="left:668px;top:1148px;width:103px;height:17px;text-align:right;">$290,298,708</div>
<div class="t d b" style="left:776px;top:1148px;width:76.5px;height:17px;text-align:right;">2,305,559</div>
<div class="t d b" style="left:857px;top:1148px;width:58px;height:17px;text-align:right;">$126</div>
<div class="t d b" style="left:919px;top:1148px;width:116px;height:17px;text-align:right;">$1,370,734,080</div>
<div class="t d b" style="left:1040px;top:1148px;width:76.5px;height:17px;text-align:right;">8,607,307</div>
<div class="t d b" style="left:1121px;top:1148px;width:58px;height:17px;text-align:right;">$159</div>
<div class="r" style="left:2px;top:1171px;width:272px;height:21px;background:#000"></div>
<div class="r" style="left:4px;top:1173px;width:147px;height:17px;background:#f6c232"></div>
<div class="r" style="left:153px;top:1173px;width:120px;height:17px;background:#f6c232"></div>
<div class="t d b i" style="left:4px;top:1173px;width:144px;height:17px;text-align:right;">2019 Potential</div>
<div class="t d b i" style="left:153px;top:1173px;width:117px;height:17px;text-align:right;">$1,708,175,707</div>
<div class="tri" style="left:1040px;top:527px;border-top:6px solid #2f7a32;border-right:6px solid transparent"></div>
<div class="tri" style="left:355px;top:1148px;border-top:5px solid #2f7a32;border-right:5px solid transparent"></div>
<div class="tri" style="left:606px;top:1148px;border-top:5px solid #2f7a32;border-right:5px solid transparent"></div>
<div class="tri" style="left:776px;top:1148px;border-top:5px solid #2f7a32;border-right:5px solid transparent"></div>
<div class="tri" style="left:857px;top:1148px;border-top:5px solid #2f7a32;border-right:5px solid transparent"></div>
<div class="r" style="left:0px;top:58px;width:2px;height:1px;background:#cbcccf"></div>
<div class="r" style="left:0px;top:131px;width:2px;height:1px;background:#cbcccf"></div>
<div class="r" style="left:0px;top:183px;width:2px;height:1px;background:#cbcccf"></div>
<div class="r" style="left:0px;top:203px;width:2px;height:1px;background:#cbcccf"></div>
<div class="r" style="left:0px;top:221px;width:2px;height:1px;background:#cbcccf"></div>
<div class="r" style="left:0px;top:239px;width:2px;height:1px;background:#cbcccf"></div>
<div class="r" style="left:0px;top:257px;width:2px;height:1px;background:#cbcccf"></div>
<div class="r" style="left:0px;top:275px;width:2px;height:1px;background:#cbcccf"></div>
<div class="r" style="left:0px;top:293px;width:2px;height:1px;background:#cbcccf"></div>
<div class="r" style="left:0px;top:311px;width:2px;height:1px;background:#cbcccf"></div>
<div class="r" style="left:0px;top:329px;width:2px;height:1px;background:#cbcccf"></div>
<div class="r" style="left:0px;top:347px;width:2px;height:1px;background:#cbcccf"></div>
<div class="r" style="left:0px;top:365px;width:2px;height:1px;background:#cbcccf"></div>
<div class="r" style="left:0px;top:383px;width:2px;height:1px;background:#cbcccf"></div>
<div class="r" style="left:0px;top:401px;width:2px;height:1px;background:#cbcccf"></div>
<div class="r" style="left:0px;top:419px;width:2px;height:1px;background:#cbcccf"></div>
<div class="r" style="left:0px;top:437px;width:2px;height:1px;background:#cbcccf"></div>
<div class="r" style="left:0px;top:455px;width:2px;height:1px;background:#cbcccf"></div>
<div class="r" style="left:0px;top:473px;width:2px;height:1px;background:#cbcccf"></div>
<div class="r" style="left:0px;top:491px;width:2px;height:1px;background:#cbcccf"></div>
<div class="r" style="left:0px;top:509px;width:2px;height:1px;background:#cbcccf"></div>
<div class="r" style="left:0px;top:527px;width:2px;height:1px;background:#cbcccf"></div>
<div class="r" style="left:0px;top:545px;width:2px;height:1px;background:#cbcccf"></div>
<div class="r" style="left:0px;top:563px;width:2px;height:1px;background:#cbcccf"></div>
<div class="r" style="left:0px;top:581px;width:2px;height:1px;background:#cbcccf"></div>
<div class="r" style="left:0px;top:599px;width:2px;height:1px;background:#cbcccf"></div>
<div class="r" style="left:0px;top:617px;width:2px;height:1px;background:#cbcccf"></div>
<div class="r" style="left:0px;top:635px;width:2px;height:1px;background:#cbcccf"></div>
<div class="r" style="left:0px;top:653px;width:2px;height:1px;background:#cbcccf"></div>
<div class="r" style="left:0px;top:671px;width:2px;height:1px;background:#cbcccf"></div>
<div class="r" style="left:0px;top:689px;width:2px;height:1px;background:#cbcccf"></div>
<div class="r" style="left:0px;top:707px;width:2px;height:1px;background:#cbcccf"></div>
<div class="r" style="left:0px;top:725px;width:2px;height:1px;background:#cbcccf"></div>
<div class="r" style="left:0px;top:743px;width:2px;height:1px;background:#cbcccf"></div>
<div class="r" style="left:0px;top:761px;width:2px;height:1px;background:#cbcccf"></div>
<div class="r" style="left:0px;top:779px;width:2px;height:1px;background:#cbcccf"></div>
<div class="r" style="left:0px;top:797px;width:2px;height:1px;background:#cbcccf"></div>
<div class="r" style="left:0px;top:815px;width:2px;height:1px;background:#cbcccf"></div>
<div class="r" style="left:0px;top:833px;width:2px;height:1px;background:#cbcccf"></div>
<div class="r" style="left:0px;top:851px;width:2px;height:1px;background:#cbcccf"></div>
<div class="r" style="left:0px;top:869px;width:2px;height:1px;background:#cbcccf"></div>
<div class="r" style="left:0px;top:887px;width:2px;height:1px;background:#cbcccf"></div>
<div class="r" style="left:0px;top:905px;width:2px;height:1px;background:#cbcccf"></div>
<div class="r" style="left:0px;top:923px;width:2px;height:1px;background:#cbcccf"></div>
<div class="r" style="left:0px;top:941px;width:2px;height:1px;background:#cbcccf"></div>
<div class="r" style="left:0px;top:959px;width:2px;height:1px;background:#cbcccf"></div>
<div class="r" style="left:0px;top:977px;width:2px;height:1px;background:#cbcccf"></div>
<div class="r" style="left:0px;top:995px;width:2px;height:1px;background:#cbcccf"></div>
<div class="r" style="left:0px;top:1013px;width:2px;height:1px;background:#cbcccf"></div>
<div class="r" style="left:0px;top:1031px;width:2px;height:1px;background:#cbcccf"></div>
<div class="r" style="left:0px;top:1049px;width:2px;height:1px;background:#cbcccf"></div>
<div class="r" style="left:0px;top:1067px;width:2px;height:1px;background:#cbcccf"></div>
<div class="r" style="left:0px;top:1085px;width:2px;height:1px;background:#cbcccf"></div>
<div class="r" style="left:0px;top:1103px;width:2px;height:1px;background:#cbcccf"></div>
</body></html>
